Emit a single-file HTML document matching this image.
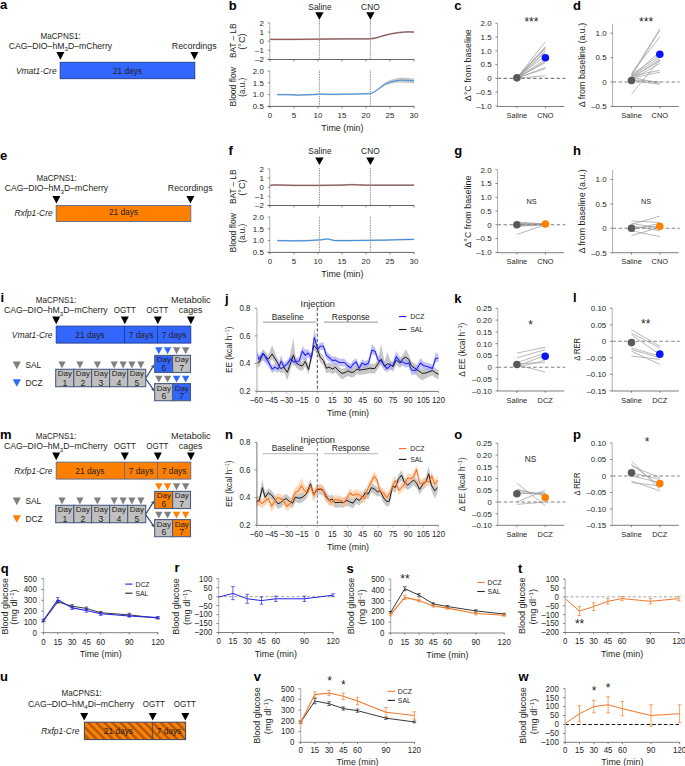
<!DOCTYPE html>
<html><head><meta charset="utf-8"><style>
html,body{margin:0;padding:0;background:#fff;}
svg{display:block;font-family:"Liberation Sans", sans-serif;}
</style></head><body>
<svg width="685" height="766" viewBox="0 0 685 766">
<rect width="685" height="766" fill="#fff"/>
<text x="0.00" y="8.90" font-size="13" text-anchor="start" font-weight="bold" fill="#000">a</text>
<text x="60.70" y="38.70" font-size="8.4" text-anchor="middle" fill="#231f20" textLength="40.3" lengthAdjust="spacingAndGlyphs">MaCPNS1:</text>
<text x="60.40" y="48.90" font-size="8.4" text-anchor="middle" fill="#231f20" textLength="103.5" lengthAdjust="spacingAndGlyphs">CAG–DIO–hM<tspan font-size="6.0" dy="2.3">3</tspan><tspan dy="-2.3">D–mCherry</tspan></text>
<polygon points="56.40,52.10 64.40,52.10 60.40,59.70" fill="#000"/>
<rect x="60.20" y="62.30" width="134.60" height="16.40" fill="#3366ff" stroke="#1c3d8f" stroke-width="0.9"/>
<text x="127.50" y="74.00" font-size="8.4" text-anchor="middle" fill="#231f20" textLength="29.1" lengthAdjust="spacingAndGlyphs">21 days</text>
<text x="56.60" y="74.40" font-size="8.4" text-anchor="end" font-style="italic" fill="#231f20" textLength="40.7" lengthAdjust="spacingAndGlyphs">Vmat1-Cre</text>
<text x="194.20" y="48.90" font-size="8.4" text-anchor="middle" fill="#231f20" textLength="44.8" lengthAdjust="spacingAndGlyphs">Recordings</text>
<polygon points="190.40,52.10 198.40,52.10 194.40,59.70" fill="#000"/>
<text x="0.00" y="159.60" font-size="13" text-anchor="start" font-weight="bold" fill="#000">e</text>
<text x="56.70" y="181.10" font-size="8.4" text-anchor="middle" fill="#231f20" textLength="40.3" lengthAdjust="spacingAndGlyphs">MaCPNS1:</text>
<text x="56.40" y="191.30" font-size="8.4" text-anchor="middle" fill="#231f20" textLength="103.5" lengthAdjust="spacingAndGlyphs">CAG–DIO–hM<tspan font-size="6.0" dy="2.3">3</tspan><tspan dy="-2.3">D–mCherry</tspan></text>
<polygon points="52.40,195.90 60.40,195.90 56.40,203.50" fill="#000"/>
<rect x="56.20" y="205.50" width="134.60" height="16.00" fill="#ff8000" stroke="#5b6b8c" stroke-width="0.9"/>
<text x="123.50" y="215.40" font-size="8.4" text-anchor="middle" fill="#231f20" textLength="29.1" lengthAdjust="spacingAndGlyphs">21 days</text>
<text x="52.60" y="216.40" font-size="8.4" text-anchor="end" font-style="italic" fill="#231f20" textLength="38.2" lengthAdjust="spacingAndGlyphs">Rxfp1-Cre</text>
<text x="190.20" y="191.30" font-size="8.4" text-anchor="middle" fill="#231f20" textLength="44.8" lengthAdjust="spacingAndGlyphs">Recordings</text>
<polygon points="186.40,195.90 194.40,195.90 190.40,203.50" fill="#000"/>
<text x="228.80" y="9.50" font-size="13" text-anchor="start" font-weight="bold" fill="#000">b</text>
<text x="320.00" y="9.60" font-size="8.4" text-anchor="middle" fill="#231f20">Saline</text>
<polygon points="315.20,12.30 323.60,12.30 319.40,19.80" fill="#000"/>
<line x1="319.40" y1="19.60" x2="319.40" y2="59.20" stroke="#333" stroke-width="0.7" stroke-dasharray="0.8 0.9" stroke-linecap="butt"/>
<line x1="319.40" y1="70.60" x2="319.40" y2="106.40" stroke="#333" stroke-width="0.7" stroke-dasharray="0.8 0.9" stroke-linecap="butt"/>
<text x="370.40" y="9.60" font-size="8.4" text-anchor="middle" fill="#231f20">CNO</text>
<polygon points="366.20,12.30 374.60,12.30 370.40,19.80" fill="#000"/>
<line x1="370.40" y1="19.60" x2="370.40" y2="59.20" stroke="#333" stroke-width="0.7" stroke-dasharray="0.8 0.9" stroke-linecap="butt"/>
<line x1="370.40" y1="70.60" x2="370.40" y2="106.40" stroke="#333" stroke-width="0.7" stroke-dasharray="0.8 0.9" stroke-linecap="butt"/>
<line x1="269.80" y1="23.00" x2="269.80" y2="59.60" stroke="#b0b0b0" stroke-width="1.0" stroke-linecap="butt"/>
<line x1="267.60" y1="59.50" x2="414.40" y2="59.50" stroke="#555" stroke-width="0.9" stroke-linecap="butt"/>
<line x1="267.80" y1="22.90" x2="269.80" y2="22.90" stroke="#555" stroke-width="0.7" stroke-linecap="butt"/>
<text x="263.80" y="25.60" font-size="7.9" text-anchor="end" fill="#231f20">2</text>
<line x1="267.80" y1="32.05" x2="269.80" y2="32.05" stroke="#555" stroke-width="0.7" stroke-linecap="butt"/>
<text x="263.80" y="34.75" font-size="7.9" text-anchor="end" fill="#231f20">1</text>
<line x1="267.80" y1="41.20" x2="269.80" y2="41.20" stroke="#555" stroke-width="0.7" stroke-linecap="butt"/>
<text x="263.80" y="43.90" font-size="7.9" text-anchor="end" fill="#231f20">0</text>
<line x1="267.80" y1="50.35" x2="269.80" y2="50.35" stroke="#555" stroke-width="0.7" stroke-linecap="butt"/>
<text x="263.80" y="53.05" font-size="7.9" text-anchor="end" fill="#231f20">–1</text>
<line x1="267.80" y1="59.50" x2="269.80" y2="59.50" stroke="#555" stroke-width="0.7" stroke-linecap="butt"/>
<text x="263.80" y="62.20" font-size="7.9" text-anchor="end" fill="#231f20">–2</text>
<line x1="270.00" y1="59.60" x2="270.00" y2="61.60" stroke="#555" stroke-width="0.7" stroke-linecap="butt"/>
<line x1="294.00" y1="59.60" x2="294.00" y2="61.60" stroke="#555" stroke-width="0.7" stroke-linecap="butt"/>
<line x1="318.00" y1="59.60" x2="318.00" y2="61.60" stroke="#555" stroke-width="0.7" stroke-linecap="butt"/>
<line x1="342.00" y1="59.60" x2="342.00" y2="61.60" stroke="#555" stroke-width="0.7" stroke-linecap="butt"/>
<line x1="366.00" y1="59.60" x2="366.00" y2="61.60" stroke="#555" stroke-width="0.7" stroke-linecap="butt"/>
<line x1="390.00" y1="59.60" x2="390.00" y2="61.60" stroke="#555" stroke-width="0.7" stroke-linecap="butt"/>
<line x1="414.00" y1="59.60" x2="414.00" y2="61.60" stroke="#555" stroke-width="0.7" stroke-linecap="butt"/>
<polygon points="270.00,38.47 294.00,38.47 318.00,38.20 342.00,38.01 366.00,38.01 370.80,37.83 375.60,37.10 380.40,35.73 385.20,34.35 390.00,33.16 394.80,32.25 399.60,31.61 404.40,31.15 409.20,30.97 414.00,31.15 414.00,32.95 409.20,32.77 404.40,32.95 399.60,33.41 394.80,34.05 390.00,34.96 385.20,36.15 380.40,37.52 375.60,38.90 370.80,39.63 366.00,39.81 342.00,39.81 318.00,40.00 294.00,40.27 270.00,40.27" fill="#bbbbbb" fill-opacity="1.0"/>
<polyline points="270.00,39.37 294.00,39.37 318.00,39.10 342.00,38.91 366.00,38.91 370.80,38.73 375.60,38.00 380.40,36.62 385.20,35.25 390.00,34.06 394.80,33.15 399.60,32.51 404.40,32.05 409.20,31.87 414.00,32.05" fill="none" stroke="#8a3b3b" stroke-width="0.9" stroke-linejoin="round"/>
<text x="236.00" y="40.80" font-size="8.4" text-anchor="middle" fill="#231f20" transform="rotate(-90 236.00 40.80)" textLength="34.6" lengthAdjust="spacingAndGlyphs">BAT – LB</text>
<text x="245.30" y="41.50" font-size="8.4" text-anchor="middle" fill="#231f20" transform="rotate(-90 245.30 41.50)" textLength="16.3" lengthAdjust="spacingAndGlyphs">(°C)</text>
<line x1="269.80" y1="70.90" x2="269.80" y2="106.40" stroke="#b0b0b0" stroke-width="1.0" stroke-linecap="butt"/>
<line x1="267.60" y1="106.40" x2="414.40" y2="106.40" stroke="#555" stroke-width="0.9" stroke-linecap="butt"/>
<line x1="267.80" y1="71.00" x2="269.80" y2="71.00" stroke="#555" stroke-width="0.7" stroke-linecap="butt"/>
<text x="263.80" y="73.70" font-size="7.9" text-anchor="end" fill="#231f20">2.0</text>
<line x1="267.80" y1="82.80" x2="269.80" y2="82.80" stroke="#555" stroke-width="0.7" stroke-linecap="butt"/>
<text x="263.80" y="85.50" font-size="7.9" text-anchor="end" fill="#231f20">1.5</text>
<line x1="267.80" y1="94.60" x2="269.80" y2="94.60" stroke="#555" stroke-width="0.7" stroke-linecap="butt"/>
<text x="263.80" y="97.30" font-size="7.9" text-anchor="end" fill="#231f20">1.0</text>
<line x1="267.80" y1="106.40" x2="269.80" y2="106.40" stroke="#555" stroke-width="0.7" stroke-linecap="butt"/>
<text x="263.80" y="109.10" font-size="7.9" text-anchor="end" fill="#231f20">0.5</text>
<line x1="270.00" y1="106.40" x2="270.00" y2="108.40" stroke="#555" stroke-width="0.7" stroke-linecap="butt"/>
<text x="270.00" y="118.00" font-size="7.9" text-anchor="middle" fill="#231f20">0</text>
<line x1="294.00" y1="106.40" x2="294.00" y2="108.40" stroke="#555" stroke-width="0.7" stroke-linecap="butt"/>
<text x="294.00" y="118.00" font-size="7.9" text-anchor="middle" fill="#231f20">5</text>
<line x1="318.00" y1="106.40" x2="318.00" y2="108.40" stroke="#555" stroke-width="0.7" stroke-linecap="butt"/>
<text x="318.00" y="118.00" font-size="7.9" text-anchor="middle" fill="#231f20">10</text>
<line x1="342.00" y1="106.40" x2="342.00" y2="108.40" stroke="#555" stroke-width="0.7" stroke-linecap="butt"/>
<text x="342.00" y="118.00" font-size="7.9" text-anchor="middle" fill="#231f20">15</text>
<line x1="366.00" y1="106.40" x2="366.00" y2="108.40" stroke="#555" stroke-width="0.7" stroke-linecap="butt"/>
<text x="366.00" y="118.00" font-size="7.9" text-anchor="middle" fill="#231f20">20</text>
<line x1="390.00" y1="106.40" x2="390.00" y2="108.40" stroke="#555" stroke-width="0.7" stroke-linecap="butt"/>
<text x="390.00" y="118.00" font-size="7.9" text-anchor="middle" fill="#231f20">25</text>
<line x1="414.00" y1="106.40" x2="414.00" y2="108.40" stroke="#555" stroke-width="0.7" stroke-linecap="butt"/>
<text x="414.00" y="118.00" font-size="7.9" text-anchor="middle" fill="#231f20">30</text>
<text x="342.40" y="131.00" font-size="8.4" text-anchor="middle" fill="#231f20" textLength="42.1" lengthAdjust="spacingAndGlyphs">Time (min)</text>
<polygon points="277.20,93.80 284.40,93.80 294.00,94.04 298.80,94.39 303.60,94.04 313.20,93.80 320.40,93.33 332.40,93.56 346.80,93.33 356.40,93.21 370.80,92.86 375.60,90.26 380.40,86.32 385.20,82.38 390.00,80.09 394.80,78.71 399.60,77.80 404.40,77.70 409.20,77.94 414.00,78.41 414.00,83.41 409.20,82.94 404.40,82.70 399.60,82.60 394.80,83.11 390.00,84.09 385.20,85.58 380.40,88.72 375.60,91.86 370.80,94.46 356.40,94.81 346.80,94.93 332.40,95.16 320.40,94.93 313.20,95.40 303.60,95.64 298.80,95.99 294.00,95.64 284.40,95.40 277.20,95.40" fill="#c8c8c8" fill-opacity="1.0"/>
<polyline points="277.20,94.60 284.40,94.60 294.00,94.84 298.80,95.19 303.60,94.84 313.20,94.60 320.40,94.13 332.40,94.36 346.80,94.13 356.40,94.01 370.80,93.66 375.60,91.06 380.40,87.52 385.20,83.98 390.00,82.09 394.80,80.91 399.60,80.20 404.40,80.20 409.20,80.44 414.00,80.91" fill="none" stroke="#3a8ee6" stroke-width="1.0" stroke-linejoin="round"/>
<text x="236.00" y="86.80" font-size="8.4" text-anchor="middle" fill="#231f20" transform="rotate(-90 236.00 86.80)" textLength="39.2" lengthAdjust="spacingAndGlyphs">Blood flow</text>
<text x="245.30" y="87.20" font-size="8.4" text-anchor="middle" fill="#231f20" transform="rotate(-90 245.30 87.20)" textLength="18.9" lengthAdjust="spacingAndGlyphs">(a.u.)</text>
<text x="228.50" y="154.70" font-size="13" text-anchor="start" font-weight="bold" fill="#000">f</text>
<text x="320.00" y="154.40" font-size="8.4" text-anchor="middle" fill="#231f20">Saline</text>
<polygon points="315.20,157.58 323.60,157.58 319.40,165.08" fill="#000"/>
<line x1="319.40" y1="168.30" x2="319.40" y2="205.20" stroke="#333" stroke-width="0.7" stroke-dasharray="0.8 0.9" stroke-linecap="butt"/>
<line x1="319.40" y1="216.60" x2="319.40" y2="252.40" stroke="#333" stroke-width="0.7" stroke-dasharray="0.8 0.9" stroke-linecap="butt"/>
<text x="370.40" y="154.40" font-size="8.4" text-anchor="middle" fill="#231f20">CNO</text>
<polygon points="366.20,157.58 374.60,157.58 370.40,165.08" fill="#000"/>
<line x1="370.40" y1="168.30" x2="370.40" y2="205.20" stroke="#333" stroke-width="0.7" stroke-dasharray="0.8 0.9" stroke-linecap="butt"/>
<line x1="370.40" y1="216.60" x2="370.40" y2="252.40" stroke="#333" stroke-width="0.7" stroke-dasharray="0.8 0.9" stroke-linecap="butt"/>
<line x1="269.80" y1="169.00" x2="269.80" y2="205.60" stroke="#b0b0b0" stroke-width="1.0" stroke-linecap="butt"/>
<line x1="267.60" y1="205.50" x2="414.40" y2="205.50" stroke="#555" stroke-width="0.9" stroke-linecap="butt"/>
<line x1="267.80" y1="168.90" x2="269.80" y2="168.90" stroke="#555" stroke-width="0.7" stroke-linecap="butt"/>
<text x="263.80" y="171.60" font-size="7.9" text-anchor="end" fill="#231f20">2</text>
<line x1="267.80" y1="178.05" x2="269.80" y2="178.05" stroke="#555" stroke-width="0.7" stroke-linecap="butt"/>
<text x="263.80" y="180.75" font-size="7.9" text-anchor="end" fill="#231f20">1</text>
<line x1="267.80" y1="187.20" x2="269.80" y2="187.20" stroke="#555" stroke-width="0.7" stroke-linecap="butt"/>
<text x="263.80" y="189.90" font-size="7.9" text-anchor="end" fill="#231f20">0</text>
<line x1="267.80" y1="196.35" x2="269.80" y2="196.35" stroke="#555" stroke-width="0.7" stroke-linecap="butt"/>
<text x="263.80" y="199.05" font-size="7.9" text-anchor="end" fill="#231f20">–1</text>
<line x1="267.80" y1="205.50" x2="269.80" y2="205.50" stroke="#555" stroke-width="0.7" stroke-linecap="butt"/>
<text x="263.80" y="208.20" font-size="7.9" text-anchor="end" fill="#231f20">–2</text>
<line x1="270.00" y1="205.60" x2="270.00" y2="207.60" stroke="#555" stroke-width="0.7" stroke-linecap="butt"/>
<line x1="294.00" y1="205.60" x2="294.00" y2="207.60" stroke="#555" stroke-width="0.7" stroke-linecap="butt"/>
<line x1="318.00" y1="205.60" x2="318.00" y2="207.60" stroke="#555" stroke-width="0.7" stroke-linecap="butt"/>
<line x1="342.00" y1="205.60" x2="342.00" y2="207.60" stroke="#555" stroke-width="0.7" stroke-linecap="butt"/>
<line x1="366.00" y1="205.60" x2="366.00" y2="207.60" stroke="#555" stroke-width="0.7" stroke-linecap="butt"/>
<line x1="390.00" y1="205.60" x2="390.00" y2="207.60" stroke="#555" stroke-width="0.7" stroke-linecap="butt"/>
<line x1="414.00" y1="205.60" x2="414.00" y2="207.60" stroke="#555" stroke-width="0.7" stroke-linecap="butt"/>
<polygon points="270.00,184.47 274.80,184.01 294.00,184.47 318.00,184.47 342.00,184.20 351.60,183.74 366.00,184.29 390.00,184.29 414.00,184.29 414.00,186.09 390.00,186.09 366.00,186.09 351.60,185.54 342.00,186.00 318.00,186.27 294.00,186.27 274.80,185.81 270.00,186.27" fill="#bbbbbb" fill-opacity="1.0"/>
<polyline points="270.00,185.37 274.80,184.91 294.00,185.37 318.00,185.37 342.00,185.10 351.60,184.64 366.00,185.19 390.00,185.19 414.00,185.19" fill="none" stroke="#8a3b3b" stroke-width="0.9" stroke-linejoin="round"/>
<text x="236.00" y="186.80" font-size="8.4" text-anchor="middle" fill="#231f20" transform="rotate(-90 236.00 186.80)" textLength="34.6" lengthAdjust="spacingAndGlyphs">BAT – LB</text>
<text x="245.30" y="187.50" font-size="8.4" text-anchor="middle" fill="#231f20" transform="rotate(-90 245.30 187.50)" textLength="16.3" lengthAdjust="spacingAndGlyphs">(°C)</text>
<line x1="269.80" y1="216.90" x2="269.80" y2="252.40" stroke="#b0b0b0" stroke-width="1.0" stroke-linecap="butt"/>
<line x1="267.60" y1="252.40" x2="414.40" y2="252.40" stroke="#555" stroke-width="0.9" stroke-linecap="butt"/>
<line x1="267.80" y1="217.00" x2="269.80" y2="217.00" stroke="#555" stroke-width="0.7" stroke-linecap="butt"/>
<text x="263.80" y="219.70" font-size="7.9" text-anchor="end" fill="#231f20">2.0</text>
<line x1="267.80" y1="228.80" x2="269.80" y2="228.80" stroke="#555" stroke-width="0.7" stroke-linecap="butt"/>
<text x="263.80" y="231.50" font-size="7.9" text-anchor="end" fill="#231f20">1.5</text>
<line x1="267.80" y1="240.60" x2="269.80" y2="240.60" stroke="#555" stroke-width="0.7" stroke-linecap="butt"/>
<text x="263.80" y="243.30" font-size="7.9" text-anchor="end" fill="#231f20">1.0</text>
<line x1="267.80" y1="252.40" x2="269.80" y2="252.40" stroke="#555" stroke-width="0.7" stroke-linecap="butt"/>
<text x="263.80" y="255.10" font-size="7.9" text-anchor="end" fill="#231f20">0.5</text>
<line x1="270.00" y1="252.40" x2="270.00" y2="254.40" stroke="#555" stroke-width="0.7" stroke-linecap="butt"/>
<text x="270.00" y="264.00" font-size="7.9" text-anchor="middle" fill="#231f20">0</text>
<line x1="294.00" y1="252.40" x2="294.00" y2="254.40" stroke="#555" stroke-width="0.7" stroke-linecap="butt"/>
<text x="294.00" y="264.00" font-size="7.9" text-anchor="middle" fill="#231f20">5</text>
<line x1="318.00" y1="252.40" x2="318.00" y2="254.40" stroke="#555" stroke-width="0.7" stroke-linecap="butt"/>
<text x="318.00" y="264.00" font-size="7.9" text-anchor="middle" fill="#231f20">10</text>
<line x1="342.00" y1="252.40" x2="342.00" y2="254.40" stroke="#555" stroke-width="0.7" stroke-linecap="butt"/>
<text x="342.00" y="264.00" font-size="7.9" text-anchor="middle" fill="#231f20">15</text>
<line x1="366.00" y1="252.40" x2="366.00" y2="254.40" stroke="#555" stroke-width="0.7" stroke-linecap="butt"/>
<text x="366.00" y="264.00" font-size="7.9" text-anchor="middle" fill="#231f20">20</text>
<line x1="390.00" y1="252.40" x2="390.00" y2="254.40" stroke="#555" stroke-width="0.7" stroke-linecap="butt"/>
<text x="390.00" y="264.00" font-size="7.9" text-anchor="middle" fill="#231f20">25</text>
<line x1="414.00" y1="252.40" x2="414.00" y2="254.40" stroke="#555" stroke-width="0.7" stroke-linecap="butt"/>
<text x="414.00" y="264.00" font-size="7.9" text-anchor="middle" fill="#231f20">30</text>
<text x="342.40" y="277.00" font-size="8.4" text-anchor="middle" fill="#231f20" textLength="42.1" lengthAdjust="spacingAndGlyphs">Time (min)</text>
<polygon points="277.20,239.80 294.00,240.04 308.40,239.80 320.40,239.09 327.60,238.15 334.80,239.80 346.80,239.80 366.00,239.56 385.20,239.33 399.60,238.86 414.00,238.62 414.00,240.22 399.60,240.46 385.20,240.93 366.00,241.16 346.80,241.40 334.80,241.40 327.60,239.75 320.40,240.69 308.40,241.40 294.00,241.64 277.20,241.40" fill="#c8c8c8" fill-opacity="1.0"/>
<polyline points="277.20,240.60 294.00,240.84 308.40,240.60 320.40,239.89 327.60,238.95 334.80,240.60 346.80,240.60 366.00,240.36 385.20,240.13 399.60,239.66 414.00,239.42" fill="none" stroke="#3a8ee6" stroke-width="1.0" stroke-linejoin="round"/>
<text x="236.00" y="232.80" font-size="8.4" text-anchor="middle" fill="#231f20" transform="rotate(-90 236.00 232.80)" textLength="39.2" lengthAdjust="spacingAndGlyphs">Blood flow</text>
<text x="245.30" y="233.20" font-size="8.4" text-anchor="middle" fill="#231f20" transform="rotate(-90 245.30 233.20)" textLength="18.9" lengthAdjust="spacingAndGlyphs">(a.u.)</text>
<text x="454.30" y="9.50" font-size="13" text-anchor="start" font-weight="bold" fill="#000">c</text>
<line x1="516.90" y1="77.85" x2="545.40" y2="41.76" stroke="#a0a0a0" stroke-width="0.75" stroke-linecap="butt"/>
<line x1="516.90" y1="77.57" x2="545.40" y2="46.72" stroke="#a0a0a0" stroke-width="0.75" stroke-linecap="butt"/>
<line x1="516.90" y1="78.40" x2="545.40" y2="47.54" stroke="#a0a0a0" stroke-width="0.75" stroke-linecap="butt"/>
<line x1="516.90" y1="77.02" x2="545.40" y2="48.65" stroke="#a0a0a0" stroke-width="0.75" stroke-linecap="butt"/>
<line x1="516.90" y1="77.85" x2="545.40" y2="50.85" stroke="#a0a0a0" stroke-width="0.75" stroke-linecap="butt"/>
<line x1="516.90" y1="78.40" x2="545.40" y2="52.23" stroke="#a0a0a0" stroke-width="0.75" stroke-linecap="butt"/>
<line x1="516.90" y1="77.30" x2="545.40" y2="55.81" stroke="#a0a0a0" stroke-width="0.75" stroke-linecap="butt"/>
<line x1="516.90" y1="77.85" x2="545.40" y2="59.67" stroke="#a0a0a0" stroke-width="0.75" stroke-linecap="butt"/>
<line x1="516.90" y1="78.40" x2="545.40" y2="61.32" stroke="#a0a0a0" stroke-width="0.75" stroke-linecap="butt"/>
<line x1="516.90" y1="77.57" x2="545.40" y2="62.70" stroke="#a0a0a0" stroke-width="0.75" stroke-linecap="butt"/>
<line x1="516.90" y1="78.40" x2="545.40" y2="67.38" stroke="#a0a0a0" stroke-width="0.75" stroke-linecap="butt"/>
<line x1="516.90" y1="77.85" x2="545.40" y2="68.76" stroke="#a0a0a0" stroke-width="0.75" stroke-linecap="butt"/>
<line x1="516.90" y1="78.40" x2="545.40" y2="75.65" stroke="#a0a0a0" stroke-width="0.75" stroke-linecap="butt"/>
<line x1="497.60" y1="78.40" x2="565.30" y2="78.40" stroke="#808080" stroke-width="1.1" stroke-dasharray="3.5 2.4" stroke-linecap="butt"/>
<line x1="497.60" y1="23.70" x2="497.60" y2="106.50" stroke="#b0b0b0" stroke-width="1.0" stroke-linecap="butt"/>
<line x1="497.10" y1="106.50" x2="564.30" y2="106.50" stroke="#707070" stroke-width="0.9" stroke-linecap="butt"/>
<line x1="495.40" y1="23.30" x2="497.60" y2="23.30" stroke="#555" stroke-width="0.7" stroke-linecap="butt"/>
<text x="491.60" y="26.10" font-size="7.9" text-anchor="end" fill="#231f20">2.0</text>
<line x1="495.40" y1="37.08" x2="497.60" y2="37.08" stroke="#555" stroke-width="0.7" stroke-linecap="butt"/>
<text x="491.60" y="39.88" font-size="7.9" text-anchor="end" fill="#231f20">1.5</text>
<line x1="495.40" y1="50.85" x2="497.60" y2="50.85" stroke="#555" stroke-width="0.7" stroke-linecap="butt"/>
<text x="491.60" y="53.65" font-size="7.9" text-anchor="end" fill="#231f20">1.0</text>
<line x1="495.40" y1="64.62" x2="497.60" y2="64.62" stroke="#555" stroke-width="0.7" stroke-linecap="butt"/>
<text x="491.60" y="67.42" font-size="7.9" text-anchor="end" fill="#231f20">0.5</text>
<line x1="495.40" y1="78.40" x2="497.60" y2="78.40" stroke="#555" stroke-width="0.7" stroke-linecap="butt"/>
<text x="491.60" y="81.20" font-size="7.9" text-anchor="end" fill="#231f20">0</text>
<line x1="495.40" y1="92.18" x2="497.60" y2="92.18" stroke="#555" stroke-width="0.7" stroke-linecap="butt"/>
<text x="491.60" y="94.98" font-size="7.9" text-anchor="end" fill="#231f20">–0.5</text>
<line x1="495.40" y1="105.95" x2="497.60" y2="105.95" stroke="#555" stroke-width="0.7" stroke-linecap="butt"/>
<text x="491.60" y="108.75" font-size="7.9" text-anchor="end" fill="#231f20">–1.0</text>
<line x1="516.90" y1="106.50" x2="516.90" y2="108.30" stroke="#555" stroke-width="0.7" stroke-linecap="butt"/>
<line x1="545.40" y1="106.50" x2="545.40" y2="108.30" stroke="#555" stroke-width="0.7" stroke-linecap="butt"/>
<text x="516.90" y="118.10" font-size="7.84" text-anchor="middle" fill="#231f20" textLength="20.57" lengthAdjust="spacingAndGlyphs">Saline</text>
<text x="545.40" y="118.10" font-size="7.84" text-anchor="middle" fill="#231f20" textLength="16.44" lengthAdjust="spacingAndGlyphs">CNO</text>
<circle cx="516.90" cy="77.85" r="3.8" fill="#595959"/>
<circle cx="545.40" cy="57.74" r="3.8" fill="#0a14f5"/>
<text x="531.40" y="26.00" font-size="12" text-anchor="middle" fill="#231f20">***</text>
<text x="470.90" y="65.20" font-size="8.4" text-anchor="middle" fill="#231f20" transform="rotate(-90 470.90 65.20)" textLength="72.1" lengthAdjust="spacingAndGlyphs">Δ°C from baseline</text>
<text x="573.00" y="9.50" font-size="13" text-anchor="start" font-weight="bold" fill="#000">d</text>
<line x1="631.50" y1="74.68" x2="659.80" y2="28.81" stroke="#a0a0a0" stroke-width="0.75" stroke-linecap="butt"/>
<line x1="631.50" y1="76.14" x2="659.80" y2="30.27" stroke="#a0a0a0" stroke-width="0.75" stroke-linecap="butt"/>
<line x1="631.50" y1="73.22" x2="659.80" y2="37.10" stroke="#a0a0a0" stroke-width="0.75" stroke-linecap="butt"/>
<line x1="631.50" y1="77.12" x2="659.80" y2="51.74" stroke="#a0a0a0" stroke-width="0.75" stroke-linecap="butt"/>
<line x1="631.50" y1="74.68" x2="659.80" y2="55.16" stroke="#a0a0a0" stroke-width="0.75" stroke-linecap="butt"/>
<line x1="631.50" y1="76.14" x2="659.80" y2="57.60" stroke="#a0a0a0" stroke-width="0.75" stroke-linecap="butt"/>
<line x1="631.50" y1="78.10" x2="659.80" y2="59.55" stroke="#a0a0a0" stroke-width="0.75" stroke-linecap="butt"/>
<line x1="631.50" y1="77.12" x2="659.80" y2="61.02" stroke="#a0a0a0" stroke-width="0.75" stroke-linecap="butt"/>
<line x1="631.50" y1="79.56" x2="659.80" y2="63.46" stroke="#a0a0a0" stroke-width="0.75" stroke-linecap="butt"/>
<line x1="631.50" y1="76.14" x2="659.80" y2="70.29" stroke="#a0a0a0" stroke-width="0.75" stroke-linecap="butt"/>
<line x1="631.50" y1="78.10" x2="659.80" y2="72.24" stroke="#a0a0a0" stroke-width="0.75" stroke-linecap="butt"/>
<line x1="631.50" y1="79.56" x2="659.80" y2="82.00" stroke="#a0a0a0" stroke-width="0.75" stroke-linecap="butt"/>
<line x1="631.50" y1="77.12" x2="659.80" y2="83.46" stroke="#a0a0a0" stroke-width="0.75" stroke-linecap="butt"/>
<line x1="631.50" y1="80.05" x2="659.80" y2="84.44" stroke="#a0a0a0" stroke-width="0.75" stroke-linecap="butt"/>
<line x1="631.50" y1="94.20" x2="659.80" y2="60.04" stroke="#a0a0a0" stroke-width="0.75" stroke-linecap="butt"/>
<line x1="612.60" y1="82.00" x2="679.80" y2="82.00" stroke="#808080" stroke-width="1.1" stroke-dasharray="3.5 2.4" stroke-linecap="butt"/>
<line x1="612.60" y1="23.70" x2="612.60" y2="106.50" stroke="#b0b0b0" stroke-width="1.0" stroke-linecap="butt"/>
<line x1="612.10" y1="106.50" x2="678.80" y2="106.50" stroke="#707070" stroke-width="0.9" stroke-linecap="butt"/>
<line x1="610.40" y1="33.20" x2="612.60" y2="33.20" stroke="#555" stroke-width="0.7" stroke-linecap="butt"/>
<text x="606.60" y="36.00" font-size="7.9" text-anchor="end" fill="#231f20">1.0</text>
<line x1="610.40" y1="57.60" x2="612.60" y2="57.60" stroke="#555" stroke-width="0.7" stroke-linecap="butt"/>
<text x="606.60" y="60.40" font-size="7.9" text-anchor="end" fill="#231f20">0.5</text>
<line x1="610.40" y1="82.00" x2="612.60" y2="82.00" stroke="#555" stroke-width="0.7" stroke-linecap="butt"/>
<text x="606.60" y="84.80" font-size="7.9" text-anchor="end" fill="#231f20">0</text>
<line x1="610.40" y1="106.40" x2="612.60" y2="106.40" stroke="#555" stroke-width="0.7" stroke-linecap="butt"/>
<text x="606.60" y="109.20" font-size="7.9" text-anchor="end" fill="#231f20">–0.5</text>
<line x1="631.50" y1="106.50" x2="631.50" y2="108.30" stroke="#555" stroke-width="0.7" stroke-linecap="butt"/>
<line x1="659.80" y1="106.50" x2="659.80" y2="108.30" stroke="#555" stroke-width="0.7" stroke-linecap="butt"/>
<text x="631.50" y="118.10" font-size="7.84" text-anchor="middle" fill="#231f20" textLength="20.57" lengthAdjust="spacingAndGlyphs">Saline</text>
<text x="659.80" y="118.10" font-size="7.84" text-anchor="middle" fill="#231f20" textLength="16.44" lengthAdjust="spacingAndGlyphs">CNO</text>
<circle cx="631.50" cy="80.54" r="3.8" fill="#595959"/>
<circle cx="659.80" cy="54.18" r="3.8" fill="#0a14f5"/>
<text x="646.10" y="26.00" font-size="12" text-anchor="middle" fill="#231f20">***</text>
<text x="584.90" y="65.00" font-size="8.4" text-anchor="middle" fill="#231f20" transform="rotate(-90 584.90 65.00)" textLength="84.4" lengthAdjust="spacingAndGlyphs">Δ from baseline (a.u.)</text>
<text x="454.30" y="154.50" font-size="13" text-anchor="start" font-weight="bold" fill="#000">g</text>
<line x1="516.90" y1="222.05" x2="545.40" y2="223.97" stroke="#a0a0a0" stroke-width="0.75" stroke-linecap="butt"/>
<line x1="516.90" y1="222.87" x2="545.40" y2="224.25" stroke="#a0a0a0" stroke-width="0.75" stroke-linecap="butt"/>
<line x1="516.90" y1="223.70" x2="545.40" y2="224.80" stroke="#a0a0a0" stroke-width="0.75" stroke-linecap="butt"/>
<line x1="516.90" y1="224.80" x2="545.40" y2="224.52" stroke="#a0a0a0" stroke-width="0.75" stroke-linecap="butt"/>
<line x1="516.90" y1="225.90" x2="545.40" y2="224.80" stroke="#a0a0a0" stroke-width="0.75" stroke-linecap="butt"/>
<line x1="516.90" y1="226.45" x2="545.40" y2="224.25" stroke="#a0a0a0" stroke-width="0.75" stroke-linecap="butt"/>
<line x1="516.90" y1="224.25" x2="545.40" y2="223.42" stroke="#a0a0a0" stroke-width="0.75" stroke-linecap="butt"/>
<line x1="516.90" y1="234.44" x2="545.40" y2="224.80" stroke="#a0a0a0" stroke-width="0.75" stroke-linecap="butt"/>
<line x1="497.60" y1="224.80" x2="565.30" y2="224.80" stroke="#808080" stroke-width="1.1" stroke-dasharray="3.5 2.4" stroke-linecap="butt"/>
<line x1="497.60" y1="170.00" x2="497.60" y2="252.70" stroke="#b0b0b0" stroke-width="1.0" stroke-linecap="butt"/>
<line x1="497.10" y1="252.70" x2="564.30" y2="252.70" stroke="#707070" stroke-width="0.9" stroke-linecap="butt"/>
<line x1="495.40" y1="169.70" x2="497.60" y2="169.70" stroke="#555" stroke-width="0.7" stroke-linecap="butt"/>
<text x="491.60" y="172.50" font-size="7.9" text-anchor="end" fill="#231f20">2.0</text>
<line x1="495.40" y1="183.48" x2="497.60" y2="183.48" stroke="#555" stroke-width="0.7" stroke-linecap="butt"/>
<text x="491.60" y="186.28" font-size="7.9" text-anchor="end" fill="#231f20">1.5</text>
<line x1="495.40" y1="197.25" x2="497.60" y2="197.25" stroke="#555" stroke-width="0.7" stroke-linecap="butt"/>
<text x="491.60" y="200.05" font-size="7.9" text-anchor="end" fill="#231f20">1.0</text>
<line x1="495.40" y1="211.03" x2="497.60" y2="211.03" stroke="#555" stroke-width="0.7" stroke-linecap="butt"/>
<text x="491.60" y="213.83" font-size="7.9" text-anchor="end" fill="#231f20">0.5</text>
<line x1="495.40" y1="224.80" x2="497.60" y2="224.80" stroke="#555" stroke-width="0.7" stroke-linecap="butt"/>
<text x="491.60" y="227.60" font-size="7.9" text-anchor="end" fill="#231f20">0</text>
<line x1="495.40" y1="238.58" x2="497.60" y2="238.58" stroke="#555" stroke-width="0.7" stroke-linecap="butt"/>
<text x="491.60" y="241.38" font-size="7.9" text-anchor="end" fill="#231f20">–0.5</text>
<line x1="495.40" y1="252.35" x2="497.60" y2="252.35" stroke="#555" stroke-width="0.7" stroke-linecap="butt"/>
<text x="491.60" y="255.15" font-size="7.9" text-anchor="end" fill="#231f20">–1.0</text>
<line x1="516.90" y1="252.70" x2="516.90" y2="254.50" stroke="#555" stroke-width="0.7" stroke-linecap="butt"/>
<line x1="545.40" y1="252.70" x2="545.40" y2="254.50" stroke="#555" stroke-width="0.7" stroke-linecap="butt"/>
<text x="516.90" y="264.30" font-size="7.84" text-anchor="middle" fill="#231f20" textLength="20.57" lengthAdjust="spacingAndGlyphs">Saline</text>
<text x="545.40" y="264.30" font-size="7.84" text-anchor="middle" fill="#231f20" textLength="16.44" lengthAdjust="spacingAndGlyphs">CNO</text>
<circle cx="516.90" cy="224.80" r="3.8" fill="#595959"/>
<circle cx="545.40" cy="223.97" r="3.8" fill="#ff8000"/>
<text x="531.60" y="204.20" font-size="7.3" text-anchor="middle" fill="#231f20">NS</text>
<text x="470.90" y="211.60" font-size="8.4" text-anchor="middle" fill="#231f20" transform="rotate(-90 470.90 211.60)" textLength="72.1" lengthAdjust="spacingAndGlyphs">Δ°C from baseline</text>
<text x="573.00" y="155.00" font-size="13" text-anchor="start" font-weight="bold" fill="#000">h</text>
<line x1="631.50" y1="220.98" x2="659.80" y2="222.44" stroke="#a0a0a0" stroke-width="0.75" stroke-linecap="butt"/>
<line x1="631.50" y1="224.40" x2="659.80" y2="216.10" stroke="#a0a0a0" stroke-width="0.75" stroke-linecap="butt"/>
<line x1="631.50" y1="225.86" x2="659.80" y2="230.74" stroke="#a0a0a0" stroke-width="0.75" stroke-linecap="butt"/>
<line x1="631.50" y1="228.30" x2="659.80" y2="225.86" stroke="#a0a0a0" stroke-width="0.75" stroke-linecap="butt"/>
<line x1="631.50" y1="230.74" x2="659.80" y2="236.60" stroke="#a0a0a0" stroke-width="0.75" stroke-linecap="butt"/>
<line x1="631.50" y1="235.62" x2="659.80" y2="227.32" stroke="#a0a0a0" stroke-width="0.75" stroke-linecap="butt"/>
<line x1="631.50" y1="223.42" x2="659.80" y2="228.30" stroke="#a0a0a0" stroke-width="0.75" stroke-linecap="butt"/>
<line x1="631.50" y1="229.28" x2="659.80" y2="223.42" stroke="#a0a0a0" stroke-width="0.75" stroke-linecap="butt"/>
<line x1="612.60" y1="228.30" x2="679.80" y2="228.30" stroke="#808080" stroke-width="1.1" stroke-dasharray="3.5 2.4" stroke-linecap="butt"/>
<line x1="612.60" y1="170.00" x2="612.60" y2="252.70" stroke="#b0b0b0" stroke-width="1.0" stroke-linecap="butt"/>
<line x1="612.10" y1="252.70" x2="678.80" y2="252.70" stroke="#707070" stroke-width="0.9" stroke-linecap="butt"/>
<line x1="610.40" y1="179.50" x2="612.60" y2="179.50" stroke="#555" stroke-width="0.7" stroke-linecap="butt"/>
<text x="606.60" y="182.30" font-size="7.9" text-anchor="end" fill="#231f20">1.0</text>
<line x1="610.40" y1="203.90" x2="612.60" y2="203.90" stroke="#555" stroke-width="0.7" stroke-linecap="butt"/>
<text x="606.60" y="206.70" font-size="7.9" text-anchor="end" fill="#231f20">0.5</text>
<line x1="610.40" y1="228.30" x2="612.60" y2="228.30" stroke="#555" stroke-width="0.7" stroke-linecap="butt"/>
<text x="606.60" y="231.10" font-size="7.9" text-anchor="end" fill="#231f20">0</text>
<line x1="610.40" y1="252.70" x2="612.60" y2="252.70" stroke="#555" stroke-width="0.7" stroke-linecap="butt"/>
<text x="606.60" y="255.50" font-size="7.9" text-anchor="end" fill="#231f20">–0.5</text>
<line x1="631.50" y1="252.70" x2="631.50" y2="254.50" stroke="#555" stroke-width="0.7" stroke-linecap="butt"/>
<line x1="659.80" y1="252.70" x2="659.80" y2="254.50" stroke="#555" stroke-width="0.7" stroke-linecap="butt"/>
<text x="631.50" y="264.30" font-size="7.84" text-anchor="middle" fill="#231f20" textLength="20.57" lengthAdjust="spacingAndGlyphs">Saline</text>
<text x="659.80" y="264.30" font-size="7.84" text-anchor="middle" fill="#231f20" textLength="16.44" lengthAdjust="spacingAndGlyphs">CNO</text>
<circle cx="631.50" cy="228.30" r="3.8" fill="#595959"/>
<circle cx="659.80" cy="226.35" r="3.8" fill="#ff8000"/>
<text x="646.10" y="204.20" font-size="7.3" text-anchor="middle" fill="#231f20">NS</text>
<text x="584.90" y="211.40" font-size="8.4" text-anchor="middle" fill="#231f20" transform="rotate(-90 584.90 211.40)" textLength="84.4" lengthAdjust="spacingAndGlyphs">Δ from baseline (a.u.)</text>
<text x="454.30" y="302.70" font-size="13" text-anchor="start" font-weight="bold" fill="#000">k</text>
<line x1="516.90" y1="353.14" x2="545.20" y2="347.24" stroke="#a0a0a0" stroke-width="0.75" stroke-linecap="butt"/>
<line x1="516.90" y1="357.86" x2="545.20" y2="349.60" stroke="#a0a0a0" stroke-width="0.75" stroke-linecap="butt"/>
<line x1="516.90" y1="367.30" x2="545.20" y2="360.22" stroke="#a0a0a0" stroke-width="0.75" stroke-linecap="butt"/>
<line x1="516.90" y1="363.76" x2="545.20" y2="362.58" stroke="#a0a0a0" stroke-width="0.75" stroke-linecap="butt"/>
<line x1="516.90" y1="364.94" x2="545.20" y2="372.02" stroke="#a0a0a0" stroke-width="0.75" stroke-linecap="butt"/>
<line x1="516.90" y1="366.12" x2="545.20" y2="355.50" stroke="#a0a0a0" stroke-width="0.75" stroke-linecap="butt"/>
<line x1="516.90" y1="362.58" x2="545.20" y2="353.14" stroke="#a0a0a0" stroke-width="0.75" stroke-linecap="butt"/>
<line x1="497.80" y1="367.30" x2="565.30" y2="367.30" stroke="#808080" stroke-width="1.1" stroke-dasharray="3.5 2.4" stroke-linecap="butt"/>
<line x1="497.80" y1="308.50" x2="497.80" y2="391.00" stroke="#b0b0b0" stroke-width="1.0" stroke-linecap="butt"/>
<line x1="497.30" y1="391.00" x2="564.30" y2="391.00" stroke="#707070" stroke-width="0.9" stroke-linecap="butt"/>
<line x1="495.60" y1="308.30" x2="497.80" y2="308.30" stroke="#555" stroke-width="0.7" stroke-linecap="butt"/>
<text x="491.80" y="311.10" font-size="7.9" text-anchor="end" fill="#231f20">0.25</text>
<line x1="495.60" y1="320.10" x2="497.80" y2="320.10" stroke="#555" stroke-width="0.7" stroke-linecap="butt"/>
<text x="491.80" y="322.90" font-size="7.9" text-anchor="end" fill="#231f20">0.20</text>
<line x1="495.60" y1="331.90" x2="497.80" y2="331.90" stroke="#555" stroke-width="0.7" stroke-linecap="butt"/>
<text x="491.80" y="334.70" font-size="7.9" text-anchor="end" fill="#231f20">0.15</text>
<line x1="495.60" y1="343.70" x2="497.80" y2="343.70" stroke="#555" stroke-width="0.7" stroke-linecap="butt"/>
<text x="491.80" y="346.50" font-size="7.9" text-anchor="end" fill="#231f20">0.10</text>
<line x1="495.60" y1="355.50" x2="497.80" y2="355.50" stroke="#555" stroke-width="0.7" stroke-linecap="butt"/>
<text x="491.80" y="358.30" font-size="7.9" text-anchor="end" fill="#231f20">0.05</text>
<line x1="495.60" y1="367.30" x2="497.80" y2="367.30" stroke="#555" stroke-width="0.7" stroke-linecap="butt"/>
<text x="491.80" y="370.10" font-size="7.9" text-anchor="end" fill="#231f20">0</text>
<line x1="495.60" y1="379.10" x2="497.80" y2="379.10" stroke="#555" stroke-width="0.7" stroke-linecap="butt"/>
<text x="491.80" y="381.90" font-size="7.9" text-anchor="end" fill="#231f20">–0.05</text>
<line x1="495.60" y1="390.90" x2="497.80" y2="390.90" stroke="#555" stroke-width="0.7" stroke-linecap="butt"/>
<text x="491.80" y="393.70" font-size="7.9" text-anchor="end" fill="#231f20">–0.10</text>
<line x1="516.90" y1="391.00" x2="516.90" y2="392.80" stroke="#555" stroke-width="0.7" stroke-linecap="butt"/>
<line x1="545.20" y1="391.00" x2="545.20" y2="392.80" stroke="#555" stroke-width="0.7" stroke-linecap="butt"/>
<text x="516.90" y="402.60" font-size="7.84" text-anchor="middle" fill="#231f20" textLength="20.57" lengthAdjust="spacingAndGlyphs">Saline</text>
<text x="545.20" y="402.60" font-size="7.84" text-anchor="middle" fill="#231f20" textLength="15.21" lengthAdjust="spacingAndGlyphs">DCZ</text>
<circle cx="516.90" cy="364.47" r="3.8" fill="#595959"/>
<circle cx="545.20" cy="356.21" r="3.8" fill="#0a14f5"/>
<text x="530.60" y="329.10" font-size="12" text-anchor="middle" fill="#231f20">*</text>
<text x="465.20" y="349.80" font-size="8.4" text-anchor="middle" fill="#231f20" transform="rotate(-90 465.20 349.80)" textLength="54.1" lengthAdjust="spacingAndGlyphs">Δ EE (kcal h<tspan font-size="5.6" dy="-3">−1</tspan><tspan dy="3">)</tspan></text>
<text x="573.00" y="302.40" font-size="13" text-anchor="start" font-weight="bold" fill="#000">l</text>
<line x1="631.50" y1="329.75" x2="659.80" y2="346.25" stroke="#a0a0a0" stroke-width="0.75" stroke-linecap="butt"/>
<line x1="631.50" y1="333.05" x2="659.80" y2="347.90" stroke="#a0a0a0" stroke-width="0.75" stroke-linecap="butt"/>
<line x1="631.50" y1="334.70" x2="659.80" y2="354.50" stroke="#a0a0a0" stroke-width="0.75" stroke-linecap="butt"/>
<line x1="631.50" y1="349.55" x2="659.80" y2="357.80" stroke="#a0a0a0" stroke-width="0.75" stroke-linecap="butt"/>
<line x1="631.50" y1="351.20" x2="659.80" y2="364.40" stroke="#a0a0a0" stroke-width="0.75" stroke-linecap="butt"/>
<line x1="631.50" y1="356.15" x2="659.80" y2="359.45" stroke="#a0a0a0" stroke-width="0.75" stroke-linecap="butt"/>
<line x1="631.50" y1="347.90" x2="659.80" y2="356.15" stroke="#a0a0a0" stroke-width="0.75" stroke-linecap="butt"/>
<line x1="612.20" y1="341.30" x2="679.80" y2="341.30" stroke="#808080" stroke-width="1.1" stroke-dasharray="3.5 2.4" stroke-linecap="butt"/>
<line x1="612.20" y1="308.50" x2="612.20" y2="391.00" stroke="#b0b0b0" stroke-width="1.0" stroke-linecap="butt"/>
<line x1="611.70" y1="391.00" x2="678.80" y2="391.00" stroke="#707070" stroke-width="0.9" stroke-linecap="butt"/>
<line x1="610.00" y1="308.30" x2="612.20" y2="308.30" stroke="#555" stroke-width="0.7" stroke-linecap="butt"/>
<text x="606.20" y="311.10" font-size="7.9" text-anchor="end" fill="#231f20">0.10</text>
<line x1="610.00" y1="324.80" x2="612.20" y2="324.80" stroke="#555" stroke-width="0.7" stroke-linecap="butt"/>
<text x="606.20" y="327.60" font-size="7.9" text-anchor="end" fill="#231f20">0.05</text>
<line x1="610.00" y1="341.30" x2="612.20" y2="341.30" stroke="#555" stroke-width="0.7" stroke-linecap="butt"/>
<text x="606.20" y="344.10" font-size="7.9" text-anchor="end" fill="#231f20">0</text>
<line x1="610.00" y1="357.80" x2="612.20" y2="357.80" stroke="#555" stroke-width="0.7" stroke-linecap="butt"/>
<text x="606.20" y="360.60" font-size="7.9" text-anchor="end" fill="#231f20">–0.05</text>
<line x1="610.00" y1="374.30" x2="612.20" y2="374.30" stroke="#555" stroke-width="0.7" stroke-linecap="butt"/>
<text x="606.20" y="377.10" font-size="7.9" text-anchor="end" fill="#231f20">–0.10</text>
<line x1="610.00" y1="390.80" x2="612.20" y2="390.80" stroke="#555" stroke-width="0.7" stroke-linecap="butt"/>
<text x="606.20" y="393.60" font-size="7.9" text-anchor="end" fill="#231f20">–0.15</text>
<line x1="631.50" y1="391.00" x2="631.50" y2="392.80" stroke="#555" stroke-width="0.7" stroke-linecap="butt"/>
<line x1="659.80" y1="391.00" x2="659.80" y2="392.80" stroke="#555" stroke-width="0.7" stroke-linecap="butt"/>
<text x="631.50" y="402.60" font-size="7.84" text-anchor="middle" fill="#231f20" textLength="20.57" lengthAdjust="spacingAndGlyphs">Saline</text>
<text x="659.80" y="402.60" font-size="7.84" text-anchor="middle" fill="#231f20" textLength="15.21" lengthAdjust="spacingAndGlyphs">DCZ</text>
<circle cx="631.50" cy="342.62" r="3.8" fill="#595959"/>
<circle cx="659.80" cy="354.17" r="3.8" fill="#0a14f5"/>
<text x="645.70" y="328.20" font-size="12" text-anchor="middle" fill="#231f20">**</text>
<text x="580.00" y="349.30" font-size="8.4" text-anchor="middle" fill="#231f20" transform="rotate(-90 580.00 349.30)" textLength="22.8" lengthAdjust="spacingAndGlyphs">Δ RER</text>
<text x="454.30" y="438.60" font-size="13" text-anchor="start" font-weight="bold" fill="#000">o</text>
<line x1="516.90" y1="483.22" x2="545.20" y2="505.52" stroke="#a0a0a0" stroke-width="0.75" stroke-linecap="butt"/>
<line x1="516.90" y1="490.26" x2="545.20" y2="494.96" stroke="#a0a0a0" stroke-width="0.75" stroke-linecap="butt"/>
<line x1="516.90" y1="492.61" x2="545.20" y2="493.78" stroke="#a0a0a0" stroke-width="0.75" stroke-linecap="butt"/>
<line x1="516.90" y1="493.78" x2="545.20" y2="492.61" stroke="#a0a0a0" stroke-width="0.75" stroke-linecap="butt"/>
<line x1="516.90" y1="502.00" x2="545.20" y2="490.26" stroke="#a0a0a0" stroke-width="0.75" stroke-linecap="butt"/>
<line x1="516.90" y1="504.35" x2="545.20" y2="502.00" stroke="#a0a0a0" stroke-width="0.75" stroke-linecap="butt"/>
<line x1="516.90" y1="489.09" x2="545.20" y2="496.13" stroke="#a0a0a0" stroke-width="0.75" stroke-linecap="butt"/>
<line x1="497.80" y1="502.00" x2="565.30" y2="502.00" stroke="#808080" stroke-width="1.1" stroke-dasharray="3.5 2.4" stroke-linecap="butt"/>
<line x1="497.80" y1="443.20" x2="497.80" y2="525.30" stroke="#b0b0b0" stroke-width="1.0" stroke-linecap="butt"/>
<line x1="497.30" y1="525.30" x2="564.30" y2="525.30" stroke="#707070" stroke-width="0.9" stroke-linecap="butt"/>
<line x1="495.60" y1="443.30" x2="497.80" y2="443.30" stroke="#555" stroke-width="0.7" stroke-linecap="butt"/>
<text x="491.80" y="446.10" font-size="7.9" text-anchor="end" fill="#231f20">0.25</text>
<line x1="495.60" y1="455.04" x2="497.80" y2="455.04" stroke="#555" stroke-width="0.7" stroke-linecap="butt"/>
<text x="491.80" y="457.84" font-size="7.9" text-anchor="end" fill="#231f20">0.20</text>
<line x1="495.60" y1="466.78" x2="497.80" y2="466.78" stroke="#555" stroke-width="0.7" stroke-linecap="butt"/>
<text x="491.80" y="469.58" font-size="7.9" text-anchor="end" fill="#231f20">0.15</text>
<line x1="495.60" y1="478.52" x2="497.80" y2="478.52" stroke="#555" stroke-width="0.7" stroke-linecap="butt"/>
<text x="491.80" y="481.32" font-size="7.9" text-anchor="end" fill="#231f20">0.10</text>
<line x1="495.60" y1="490.26" x2="497.80" y2="490.26" stroke="#555" stroke-width="0.7" stroke-linecap="butt"/>
<text x="491.80" y="493.06" font-size="7.9" text-anchor="end" fill="#231f20">0.05</text>
<line x1="495.60" y1="502.00" x2="497.80" y2="502.00" stroke="#555" stroke-width="0.7" stroke-linecap="butt"/>
<text x="491.80" y="504.80" font-size="7.9" text-anchor="end" fill="#231f20">0</text>
<line x1="495.60" y1="513.74" x2="497.80" y2="513.74" stroke="#555" stroke-width="0.7" stroke-linecap="butt"/>
<text x="491.80" y="516.54" font-size="7.9" text-anchor="end" fill="#231f20">–0.05</text>
<line x1="495.60" y1="525.48" x2="497.80" y2="525.48" stroke="#555" stroke-width="0.7" stroke-linecap="butt"/>
<text x="491.80" y="528.28" font-size="7.9" text-anchor="end" fill="#231f20">–0.10</text>
<line x1="516.90" y1="525.30" x2="516.90" y2="527.10" stroke="#555" stroke-width="0.7" stroke-linecap="butt"/>
<line x1="545.20" y1="525.30" x2="545.20" y2="527.10" stroke="#555" stroke-width="0.7" stroke-linecap="butt"/>
<text x="516.90" y="536.90" font-size="7.84" text-anchor="middle" fill="#231f20" textLength="20.57" lengthAdjust="spacingAndGlyphs">Saline</text>
<text x="545.20" y="536.90" font-size="7.84" text-anchor="middle" fill="#231f20" textLength="15.21" lengthAdjust="spacingAndGlyphs">DCZ</text>
<circle cx="516.90" cy="493.78" r="3.8" fill="#595959"/>
<circle cx="545.20" cy="497.54" r="3.8" fill="#ff8000"/>
<text x="530.60" y="462.30" font-size="8.3" text-anchor="middle" fill="#231f20">NS</text>
<text x="465.20" y="484.40" font-size="8.4" text-anchor="middle" fill="#231f20" transform="rotate(-90 465.20 484.40)" textLength="54.1" lengthAdjust="spacingAndGlyphs">Δ EE (kcal h<tspan font-size="5.6" dy="-3">−1</tspan><tspan dy="3">)</tspan></text>
<text x="573.00" y="439.00" font-size="13" text-anchor="start" font-weight="bold" fill="#000">p</text>
<line x1="631.50" y1="461.15" x2="659.80" y2="489.20" stroke="#a0a0a0" stroke-width="0.75" stroke-linecap="butt"/>
<line x1="631.50" y1="464.45" x2="659.80" y2="485.90" stroke="#a0a0a0" stroke-width="0.75" stroke-linecap="butt"/>
<line x1="631.50" y1="466.10" x2="659.80" y2="477.65" stroke="#a0a0a0" stroke-width="0.75" stroke-linecap="butt"/>
<line x1="631.50" y1="476.00" x2="659.80" y2="482.60" stroke="#a0a0a0" stroke-width="0.75" stroke-linecap="butt"/>
<line x1="631.50" y1="480.95" x2="659.80" y2="490.85" stroke="#a0a0a0" stroke-width="0.75" stroke-linecap="butt"/>
<line x1="631.50" y1="482.60" x2="659.80" y2="485.90" stroke="#a0a0a0" stroke-width="0.75" stroke-linecap="butt"/>
<line x1="631.50" y1="472.70" x2="659.80" y2="479.30" stroke="#a0a0a0" stroke-width="0.75" stroke-linecap="butt"/>
<line x1="612.20" y1="476.00" x2="679.80" y2="476.00" stroke="#808080" stroke-width="1.1" stroke-dasharray="3.5 2.4" stroke-linecap="butt"/>
<line x1="612.20" y1="443.20" x2="612.20" y2="525.30" stroke="#b0b0b0" stroke-width="1.0" stroke-linecap="butt"/>
<line x1="611.70" y1="525.30" x2="678.80" y2="525.30" stroke="#707070" stroke-width="0.9" stroke-linecap="butt"/>
<line x1="610.00" y1="443.00" x2="612.20" y2="443.00" stroke="#555" stroke-width="0.7" stroke-linecap="butt"/>
<text x="606.20" y="445.80" font-size="7.9" text-anchor="end" fill="#231f20">0.10</text>
<line x1="610.00" y1="459.50" x2="612.20" y2="459.50" stroke="#555" stroke-width="0.7" stroke-linecap="butt"/>
<text x="606.20" y="462.30" font-size="7.9" text-anchor="end" fill="#231f20">0.05</text>
<line x1="610.00" y1="476.00" x2="612.20" y2="476.00" stroke="#555" stroke-width="0.7" stroke-linecap="butt"/>
<text x="606.20" y="478.80" font-size="7.9" text-anchor="end" fill="#231f20">0</text>
<line x1="610.00" y1="492.50" x2="612.20" y2="492.50" stroke="#555" stroke-width="0.7" stroke-linecap="butt"/>
<text x="606.20" y="495.30" font-size="7.9" text-anchor="end" fill="#231f20">–0.05</text>
<line x1="610.00" y1="509.00" x2="612.20" y2="509.00" stroke="#555" stroke-width="0.7" stroke-linecap="butt"/>
<text x="606.20" y="511.80" font-size="7.9" text-anchor="end" fill="#231f20">–0.10</text>
<line x1="610.00" y1="525.50" x2="612.20" y2="525.50" stroke="#555" stroke-width="0.7" stroke-linecap="butt"/>
<text x="606.20" y="528.30" font-size="7.9" text-anchor="end" fill="#231f20">–0.15</text>
<line x1="631.50" y1="525.30" x2="631.50" y2="527.10" stroke="#555" stroke-width="0.7" stroke-linecap="butt"/>
<line x1="659.80" y1="525.30" x2="659.80" y2="527.10" stroke="#555" stroke-width="0.7" stroke-linecap="butt"/>
<text x="631.50" y="536.90" font-size="7.84" text-anchor="middle" fill="#231f20" textLength="20.57" lengthAdjust="spacingAndGlyphs">Saline</text>
<text x="659.80" y="536.90" font-size="7.84" text-anchor="middle" fill="#231f20" textLength="15.21" lengthAdjust="spacingAndGlyphs">DCZ</text>
<circle cx="631.50" cy="472.70" r="3.8" fill="#595959"/>
<circle cx="659.80" cy="483.59" r="3.8" fill="#ff8000"/>
<text x="647.00" y="445.80" font-size="12" text-anchor="middle" fill="#231f20">*</text>
<text x="580.00" y="484.00" font-size="8.4" text-anchor="middle" fill="#231f20" transform="rotate(-90 580.00 484.00)" textLength="22.8" lengthAdjust="spacingAndGlyphs">Δ RER</text>
<text x="0.60" y="302.40" font-size="13" text-anchor="start" font-weight="bold" fill="#000">i</text>
<text x="56.00" y="302.90" font-size="8.4" text-anchor="middle" fill="#231f20" textLength="40.3" lengthAdjust="spacingAndGlyphs">MaCPNS1:</text>
<text x="55.80" y="313.20" font-size="8.4" text-anchor="middle" fill="#231f20" textLength="103.8" lengthAdjust="spacingAndGlyphs">CAG–DIO–hM<tspan font-size="6.0" dy="2.3">3</tspan><tspan dy="-2.3">D–mCherry</tspan></text>
<text x="124.80" y="313.20" font-size="8.4" text-anchor="middle" fill="#231f20" textLength="22.2" lengthAdjust="spacingAndGlyphs">OGTT</text>
<text x="157.40" y="313.20" font-size="8.4" text-anchor="middle" fill="#231f20" textLength="22.2" lengthAdjust="spacingAndGlyphs">OGTT</text>
<text x="190.90" y="302.90" font-size="8.4" text-anchor="middle" fill="#231f20" textLength="39.7" lengthAdjust="spacingAndGlyphs">Metabolic</text>
<text x="190.60" y="313.20" font-size="8.4" text-anchor="middle" fill="#231f20" textLength="23.7" lengthAdjust="spacingAndGlyphs">cages</text>
<polygon points="52.20,316.60 60.20,316.60 56.20,324.20" fill="#000"/>
<polygon points="120.80,316.60 128.80,316.60 124.80,324.20" fill="#000"/>
<polygon points="153.80,316.60 161.80,316.60 157.80,324.20" fill="#000"/>
<polygon points="186.90,316.60 194.90,316.60 190.90,324.20" fill="#000"/>
<rect x="56.20" y="326.10" width="134.60" height="17.00" fill="#3366ff" stroke="#1c3d8f" stroke-width="0.9"/>
<line x1="124.50" y1="326.10" x2="124.50" y2="343.10" stroke="#1c3d8f" stroke-width="0.9" stroke-linecap="butt"/>
<line x1="157.50" y1="326.10" x2="157.50" y2="343.10" stroke="#1c3d8f" stroke-width="0.9" stroke-linecap="butt"/>
<text x="89.90" y="337.60" font-size="8.4" text-anchor="middle" fill="#231f20" textLength="29.1" lengthAdjust="spacingAndGlyphs">21 days</text>
<text x="141.00" y="337.60" font-size="8.4" text-anchor="middle" fill="#231f20" textLength="24.7" lengthAdjust="spacingAndGlyphs">7 days</text>
<text x="174.10" y="337.60" font-size="8.4" text-anchor="middle" fill="#231f20" textLength="24.7" lengthAdjust="spacingAndGlyphs">7 days</text>
<text x="52.50" y="337.70" font-size="8.4" text-anchor="end" font-style="italic" fill="#231f20" textLength="40.7" lengthAdjust="spacingAndGlyphs">Vmat1-Cre</text>
<polygon points="12.70,361.60 20.90,361.60 16.80,369.20" fill="#808080"/>
<text x="25.40" y="368.40" font-size="8.4" text-anchor="start" fill="#231f20">SAL</text>
<polygon points="12.70,379.20 20.90,379.20 16.80,386.80" fill="#2f6bff"/>
<text x="25.40" y="386.40" font-size="8.4" text-anchor="start" fill="#231f20">DCZ</text>
<rect x="55.70" y="369.30" width="18.10" height="17.40" fill="#c0c0c0" stroke="#4a5c80" stroke-width="1.1"/>
<text x="64.95" y="376.20" font-size="7.9" text-anchor="middle" fill="#231f20" textLength="14.3" lengthAdjust="spacingAndGlyphs">Day</text>
<text x="64.95" y="385.70" font-size="8.6" text-anchor="middle" fill="#231f20">1</text>
<rect x="73.80" y="369.30" width="17.80" height="17.40" fill="#c0c0c0" stroke="#4a5c80" stroke-width="1.1"/>
<text x="82.90" y="376.20" font-size="7.9" text-anchor="middle" fill="#231f20" textLength="14.3" lengthAdjust="spacingAndGlyphs">Day</text>
<text x="82.90" y="385.70" font-size="8.6" text-anchor="middle" fill="#231f20">2</text>
<rect x="91.60" y="369.30" width="18.00" height="17.40" fill="#c0c0c0" stroke="#4a5c80" stroke-width="1.1"/>
<text x="100.80" y="376.20" font-size="7.9" text-anchor="middle" fill="#231f20" textLength="14.3" lengthAdjust="spacingAndGlyphs">Day</text>
<text x="100.80" y="385.70" font-size="8.6" text-anchor="middle" fill="#231f20">3</text>
<rect x="109.60" y="369.30" width="18.10" height="17.40" fill="#c0c0c0" stroke="#4a5c80" stroke-width="1.1"/>
<text x="118.85" y="376.20" font-size="7.9" text-anchor="middle" fill="#231f20" textLength="14.3" lengthAdjust="spacingAndGlyphs">Day</text>
<text x="118.85" y="385.70" font-size="8.6" text-anchor="middle" fill="#231f20">4</text>
<rect x="127.70" y="369.30" width="18.00" height="17.40" fill="#c0c0c0" stroke="#4a5c80" stroke-width="1.1"/>
<text x="136.90" y="376.20" font-size="7.9" text-anchor="middle" fill="#231f20" textLength="14.3" lengthAdjust="spacingAndGlyphs">Day</text>
<text x="136.90" y="385.70" font-size="8.6" text-anchor="middle" fill="#231f20">5</text>
<polygon points="58.40,361.60 65.60,361.60 62.00,368.40" fill="#808080"/>
<polygon points="76.30,361.60 83.50,361.60 79.90,368.40" fill="#808080"/>
<polygon points="93.80,361.60 101.00,361.60 97.40,368.40" fill="#808080"/>
<polygon points="110.60,361.60 117.80,361.60 114.20,368.40" fill="#808080"/>
<polygon points="119.50,361.60 126.70,361.60 123.10,368.40" fill="#808080"/>
<polygon points="128.30,361.60 135.50,361.60 131.90,368.40" fill="#808080"/>
<polygon points="137.30,361.60 144.50,361.60 140.90,368.40" fill="#808080"/>
<line x1="145.90" y1="377.90" x2="152.60" y2="367.40" stroke="#3c5070" stroke-width="1.2" stroke-linecap="butt"/>
<line x1="145.90" y1="378.90" x2="152.80" y2="388.80" stroke="#3c5070" stroke-width="1.2" stroke-linecap="butt"/>
<polygon points="154.4,364.6 150.9,366.4 153.8,368.2" fill="#3c5070"/>
<polygon points="154.6,391.6 151.1,389.8 154.0,388.0" fill="#3c5070"/>
<rect x="154.70" y="355.40" width="17.90" height="17.10" fill="#3366ff" stroke="#4a5c80" stroke-width="1.1"/>
<rect x="172.60" y="355.40" width="17.90" height="17.10" fill="#c0c0c0" stroke="#4a5c80" stroke-width="1.1"/>
<text x="163.85" y="362.30" font-size="7.9" text-anchor="middle" fill="#231f20" textLength="14.2" lengthAdjust="spacingAndGlyphs">Day</text>
<text x="163.85" y="370.90" font-size="8.6" text-anchor="middle" fill="#231f20">6</text>
<text x="181.75" y="362.30" font-size="7.9" text-anchor="middle" fill="#231f20" textLength="14.2" lengthAdjust="spacingAndGlyphs">Day</text>
<text x="181.75" y="370.90" font-size="8.6" text-anchor="middle" fill="#231f20">7</text>
<polygon points="155.15,347.30 162.45,347.30 158.80,354.20" fill="#2f6bff"/>
<polygon points="163.95,347.30 171.25,347.30 167.60,354.20" fill="#2f6bff"/>
<polygon points="172.95,347.30 180.25,347.30 176.60,354.20" fill="#808080"/>
<polygon points="182.05,347.30 189.35,347.30 185.70,354.20" fill="#808080"/>
<rect x="154.70" y="383.60" width="17.90" height="17.10" fill="#c0c0c0" stroke="#4a5c80" stroke-width="1.1"/>
<rect x="172.60" y="383.60" width="17.90" height="17.10" fill="#3366ff" stroke="#4a5c80" stroke-width="1.1"/>
<text x="163.85" y="390.50" font-size="7.9" text-anchor="middle" fill="#231f20" textLength="14.2" lengthAdjust="spacingAndGlyphs">Day</text>
<text x="163.85" y="399.10" font-size="8.6" text-anchor="middle" fill="#231f20">6</text>
<text x="181.75" y="390.50" font-size="7.9" text-anchor="middle" fill="#231f20" textLength="14.2" lengthAdjust="spacingAndGlyphs">Day</text>
<text x="181.75" y="399.10" font-size="8.6" text-anchor="middle" fill="#231f20">7</text>
<polygon points="155.15,375.70 162.45,375.70 158.80,382.60" fill="#808080"/>
<polygon points="163.95,375.70 171.25,375.70 167.60,382.60" fill="#808080"/>
<polygon points="172.95,375.70 180.25,375.70 176.60,382.60" fill="#2f6bff"/>
<polygon points="182.05,375.70 189.35,375.70 185.70,382.60" fill="#2f6bff"/>
<text x="0.00" y="439.10" font-size="13" text-anchor="start" font-weight="bold" fill="#000">m</text>
<text x="56.00" y="438.90" font-size="8.4" text-anchor="middle" fill="#231f20" textLength="40.3" lengthAdjust="spacingAndGlyphs">MaCPNS1:</text>
<text x="55.80" y="449.20" font-size="8.4" text-anchor="middle" fill="#231f20" textLength="103.8" lengthAdjust="spacingAndGlyphs">CAG–DIO–hM<tspan font-size="6.0" dy="2.3">3</tspan><tspan dy="-2.3">D–mCherry</tspan></text>
<text x="124.80" y="449.20" font-size="8.4" text-anchor="middle" fill="#231f20" textLength="22.2" lengthAdjust="spacingAndGlyphs">OGTT</text>
<text x="157.40" y="449.20" font-size="8.4" text-anchor="middle" fill="#231f20" textLength="22.2" lengthAdjust="spacingAndGlyphs">OGTT</text>
<text x="190.90" y="438.90" font-size="8.4" text-anchor="middle" fill="#231f20" textLength="39.7" lengthAdjust="spacingAndGlyphs">Metabolic</text>
<text x="190.60" y="449.20" font-size="8.4" text-anchor="middle" fill="#231f20" textLength="23.7" lengthAdjust="spacingAndGlyphs">cages</text>
<polygon points="52.20,452.60 60.20,452.60 56.20,460.20" fill="#000"/>
<polygon points="120.80,452.60 128.80,452.60 124.80,460.20" fill="#000"/>
<polygon points="153.80,452.60 161.80,452.60 157.80,460.20" fill="#000"/>
<polygon points="186.90,452.60 194.90,452.60 190.90,460.20" fill="#000"/>
<rect x="56.20" y="462.10" width="134.60" height="17.00" fill="#ff8000" stroke="#5b6b8c" stroke-width="0.9"/>
<line x1="124.50" y1="462.10" x2="124.50" y2="479.10" stroke="#5b6b8c" stroke-width="0.9" stroke-linecap="butt"/>
<line x1="157.50" y1="462.10" x2="157.50" y2="479.10" stroke="#5b6b8c" stroke-width="0.9" stroke-linecap="butt"/>
<text x="89.90" y="473.60" font-size="8.4" text-anchor="middle" fill="#231f20" textLength="29.1" lengthAdjust="spacingAndGlyphs">21 days</text>
<text x="141.00" y="473.60" font-size="8.4" text-anchor="middle" fill="#231f20" textLength="24.7" lengthAdjust="spacingAndGlyphs">7 days</text>
<text x="174.10" y="473.60" font-size="8.4" text-anchor="middle" fill="#231f20" textLength="24.7" lengthAdjust="spacingAndGlyphs">7 days</text>
<text x="52.50" y="473.70" font-size="8.4" text-anchor="end" font-style="italic" fill="#231f20" textLength="38.2" lengthAdjust="spacingAndGlyphs">Rxfp1-Cre</text>
<polygon points="12.70,497.60 20.90,497.60 16.80,505.20" fill="#808080"/>
<text x="25.40" y="504.40" font-size="8.4" text-anchor="start" fill="#231f20">SAL</text>
<polygon points="12.70,515.20 20.90,515.20 16.80,522.80" fill="#ff8000"/>
<text x="25.40" y="522.40" font-size="8.4" text-anchor="start" fill="#231f20">DCZ</text>
<rect x="55.70" y="505.30" width="18.10" height="17.40" fill="#c0c0c0" stroke="#4a5c80" stroke-width="1.1"/>
<text x="64.95" y="512.20" font-size="7.9" text-anchor="middle" fill="#231f20" textLength="14.3" lengthAdjust="spacingAndGlyphs">Day</text>
<text x="64.95" y="521.70" font-size="8.6" text-anchor="middle" fill="#231f20">1</text>
<rect x="73.80" y="505.30" width="17.80" height="17.40" fill="#c0c0c0" stroke="#4a5c80" stroke-width="1.1"/>
<text x="82.90" y="512.20" font-size="7.9" text-anchor="middle" fill="#231f20" textLength="14.3" lengthAdjust="spacingAndGlyphs">Day</text>
<text x="82.90" y="521.70" font-size="8.6" text-anchor="middle" fill="#231f20">2</text>
<rect x="91.60" y="505.30" width="18.00" height="17.40" fill="#c0c0c0" stroke="#4a5c80" stroke-width="1.1"/>
<text x="100.80" y="512.20" font-size="7.9" text-anchor="middle" fill="#231f20" textLength="14.3" lengthAdjust="spacingAndGlyphs">Day</text>
<text x="100.80" y="521.70" font-size="8.6" text-anchor="middle" fill="#231f20">3</text>
<rect x="109.60" y="505.30" width="18.10" height="17.40" fill="#c0c0c0" stroke="#4a5c80" stroke-width="1.1"/>
<text x="118.85" y="512.20" font-size="7.9" text-anchor="middle" fill="#231f20" textLength="14.3" lengthAdjust="spacingAndGlyphs">Day</text>
<text x="118.85" y="521.70" font-size="8.6" text-anchor="middle" fill="#231f20">4</text>
<rect x="127.70" y="505.30" width="18.00" height="17.40" fill="#c0c0c0" stroke="#4a5c80" stroke-width="1.1"/>
<text x="136.90" y="512.20" font-size="7.9" text-anchor="middle" fill="#231f20" textLength="14.3" lengthAdjust="spacingAndGlyphs">Day</text>
<text x="136.90" y="521.70" font-size="8.6" text-anchor="middle" fill="#231f20">5</text>
<polygon points="58.40,497.60 65.60,497.60 62.00,504.40" fill="#808080"/>
<polygon points="76.30,497.60 83.50,497.60 79.90,504.40" fill="#808080"/>
<polygon points="93.80,497.60 101.00,497.60 97.40,504.40" fill="#808080"/>
<polygon points="110.60,497.60 117.80,497.60 114.20,504.40" fill="#808080"/>
<polygon points="119.50,497.60 126.70,497.60 123.10,504.40" fill="#808080"/>
<polygon points="128.30,497.60 135.50,497.60 131.90,504.40" fill="#808080"/>
<polygon points="137.30,497.60 144.50,497.60 140.90,504.40" fill="#808080"/>
<line x1="145.90" y1="513.90" x2="152.60" y2="503.40" stroke="#3c5070" stroke-width="1.2" stroke-linecap="butt"/>
<line x1="145.90" y1="514.90" x2="152.80" y2="524.80" stroke="#3c5070" stroke-width="1.2" stroke-linecap="butt"/>
<polygon points="154.4,500.6 150.9,502.4 153.8,504.2" fill="#3c5070"/>
<polygon points="154.6,527.6 151.1,525.8 154.0,524.0" fill="#3c5070"/>
<rect x="154.70" y="491.40" width="17.90" height="17.10" fill="#ff8000" stroke="#4a5c80" stroke-width="1.1"/>
<rect x="172.60" y="491.40" width="17.90" height="17.10" fill="#c0c0c0" stroke="#4a5c80" stroke-width="1.1"/>
<text x="163.85" y="498.30" font-size="7.9" text-anchor="middle" fill="#231f20" textLength="14.2" lengthAdjust="spacingAndGlyphs">Day</text>
<text x="163.85" y="506.90" font-size="8.6" text-anchor="middle" fill="#231f20">6</text>
<text x="181.75" y="498.30" font-size="7.9" text-anchor="middle" fill="#231f20" textLength="14.2" lengthAdjust="spacingAndGlyphs">Day</text>
<text x="181.75" y="506.90" font-size="8.6" text-anchor="middle" fill="#231f20">7</text>
<polygon points="155.15,483.30 162.45,483.30 158.80,490.20" fill="#ff8000"/>
<polygon points="163.95,483.30 171.25,483.30 167.60,490.20" fill="#ff8000"/>
<polygon points="172.95,483.30 180.25,483.30 176.60,490.20" fill="#808080"/>
<polygon points="182.05,483.30 189.35,483.30 185.70,490.20" fill="#808080"/>
<rect x="154.70" y="519.60" width="17.90" height="17.10" fill="#c0c0c0" stroke="#4a5c80" stroke-width="1.1"/>
<rect x="172.60" y="519.60" width="17.90" height="17.10" fill="#ff8000" stroke="#4a5c80" stroke-width="1.1"/>
<text x="163.85" y="526.50" font-size="7.9" text-anchor="middle" fill="#231f20" textLength="14.2" lengthAdjust="spacingAndGlyphs">Day</text>
<text x="163.85" y="535.10" font-size="8.6" text-anchor="middle" fill="#231f20">6</text>
<text x="181.75" y="526.50" font-size="7.9" text-anchor="middle" fill="#231f20" textLength="14.2" lengthAdjust="spacingAndGlyphs">Day</text>
<text x="181.75" y="535.10" font-size="8.6" text-anchor="middle" fill="#231f20">7</text>
<polygon points="155.15,511.70 162.45,511.70 158.80,518.60" fill="#808080"/>
<polygon points="163.95,511.70 171.25,511.70 167.60,518.60" fill="#808080"/>
<polygon points="172.95,511.70 180.25,511.70 176.60,518.60" fill="#ff8000"/>
<polygon points="182.05,511.70 189.35,511.70 185.70,518.60" fill="#ff8000"/>
<text x="224.90" y="302.50" font-size="13" text-anchor="start" font-weight="bold" fill="#000">j</text>
<polygon points="256.90,358.50 259.30,357.50 263.10,349.00 268.30,355.20 272.10,344.90 276.50,356.50 280.60,364.10 283.90,362.70 287.30,367.90 293.40,337.90 295.80,358.00 299.60,360.80 302.40,361.30 305.30,357.00 308.60,365.10 313.80,340.90 317.60,345.20 320.20,352.80 323.50,356.10 326.40,363.70 329.20,362.70 332.60,364.60 335.40,362.70 338.70,366.50 342.00,368.90 345.40,367.90 347.70,366.50 351.10,367.90 353.90,367.50 356.70,364.60 359.60,365.60 362.40,365.10 366.20,364.60 369.60,363.70 374.80,364.10 377.80,359.40 381.20,344.20 384.50,361.80 387.30,351.90 390.20,359.90 393.00,362.20 396.30,355.60 400.10,358.50 403.50,353.70 405.80,349.30 408.70,354.70 411.50,361.30 414.80,363.70 418.20,366.00 422.40,368.90 426.20,368.40 432.40,366.00 435.70,368.40 438.60,369.80 438.60,379.30 435.70,377.90 432.40,375.50 426.20,377.90 422.40,380.40 418.20,377.50 414.80,373.20 411.50,370.80 408.70,364.20 405.80,362.30 403.50,363.20 400.10,368.00 396.30,365.10 393.00,371.70 390.20,369.40 387.30,368.90 384.50,371.30 381.20,364.20 377.80,368.90 374.80,373.60 369.60,373.20 366.20,374.10 362.40,374.60 359.60,375.10 356.70,374.10 353.90,377.00 351.10,377.40 347.70,376.00 345.40,377.40 342.00,379.40 338.70,376.00 335.40,372.20 332.60,374.10 329.20,372.20 326.40,373.20 323.50,365.60 320.20,362.30 317.60,354.70 313.80,350.40 308.60,374.60 305.30,366.50 302.40,370.80 299.60,370.30 295.80,367.50 293.40,359.90 287.30,380.40 283.90,372.20 280.60,373.60 276.50,366.00 272.10,358.90 268.30,364.20 263.10,358.50 259.30,367.00 256.90,368.00" fill="#b4b4b4" fill-opacity="0.75"/>
<polygon points="256.90,349.70 258.80,355.40 263.10,349.70 267.30,356.30 272.10,365.30 274.90,363.40 278.20,365.30 281.10,355.10 283.90,362.90 287.30,360.10 291.10,354.40 293.40,358.20 295.80,357.70 299.10,357.30 302.40,346.10 305.30,349.40 308.10,349.20 311.50,353.90 314.30,328.30 317.80,345.40 320.20,342.50 323.50,342.50 326.40,351.60 329.20,353.90 332.60,356.80 335.40,356.30 339.20,358.70 344.40,358.70 347.70,362.00 350.60,363.90 353.40,360.10 356.30,358.20 359.10,364.80 362.00,359.20 365.30,361.00 368.60,359.20 371.90,344.10 375.20,347.80 378.10,356.30 381.20,357.30 384.00,361.00 386.90,364.80 390.20,362.00 393.00,361.50 396.30,350.80 400.10,357.70 402.50,358.20 405.80,360.10 408.70,359.20 411.50,366.30 415.80,366.70 420.50,358.00 423.90,362.00 428.10,362.90 432.40,364.80 435.70,352.20 438.60,354.40 438.60,362.00 435.70,362.00 432.40,372.40 428.10,370.50 423.90,369.60 420.50,366.80 415.80,374.30 411.50,375.10 408.70,366.80 405.80,367.70 402.50,365.80 400.10,365.30 396.30,360.60 393.00,369.10 390.20,369.60 386.90,372.40 384.00,368.60 381.20,364.90 378.10,363.90 375.20,355.40 371.90,353.90 368.60,366.80 365.30,368.60 362.00,366.80 359.10,372.40 356.30,365.80 353.40,367.70 350.60,371.50 347.70,369.60 344.40,366.30 339.20,366.30 335.40,363.90 332.60,364.40 329.20,361.50 326.40,359.20 323.50,350.10 320.20,350.10 317.80,353.00 314.30,341.10 311.50,361.50 308.10,356.80 305.30,362.40 302.40,359.10 299.10,364.90 295.80,365.30 293.40,365.80 291.10,362.00 287.30,367.70 283.90,370.50 281.10,364.90 278.20,372.90 274.90,371.00 272.10,372.90 267.30,365.10 263.10,360.50 258.80,363.00 256.90,357.30" fill="#a8a8f6" fill-opacity="0.7"/>
<polyline points="256.90,363.00 259.30,362.00 263.10,353.50 268.30,359.20 272.10,353.90 276.50,361.00 280.60,368.60 283.90,367.20 287.30,372.40 293.40,354.90 295.80,362.50 299.60,365.30 302.40,365.80 305.30,361.50 308.60,369.60 313.80,345.40 317.60,349.70 320.20,357.30 323.50,360.60 326.40,368.20 329.20,367.20 332.60,369.10 335.40,367.20 338.70,371.00 342.00,373.40 345.40,372.40 347.70,371.00 351.10,372.40 353.90,372.00 356.70,369.10 359.60,370.10 362.40,369.60 366.20,369.10 369.60,368.20 374.80,368.60 377.80,363.90 381.20,359.20 384.50,366.30 387.30,363.90 390.20,364.40 393.00,366.70 396.30,360.10 400.10,363.00 403.50,358.20 405.80,357.30 408.70,359.20 411.50,365.80 414.80,368.20 418.20,370.50 422.40,373.40 426.20,372.90 432.40,370.50 435.70,372.90 438.60,374.30" fill="none" stroke="#1a1a1a" stroke-width="1.0" stroke-linejoin="round"/>
<polyline points="256.90,353.50 258.80,359.20 263.10,353.50 267.30,360.10 272.10,369.10 274.90,367.20 278.20,369.10 281.10,361.10 283.90,366.70 287.30,363.90 291.10,358.20 293.40,362.00 295.80,361.50 299.10,361.10 302.40,351.10 305.30,355.40 308.10,353.00 311.50,357.70 314.30,337.30 317.80,349.20 320.20,346.30 323.50,346.30 326.40,355.40 329.20,357.70 332.60,360.60 335.40,360.10 339.20,362.50 344.40,362.50 347.70,365.80 350.60,367.70 353.40,363.90 356.30,362.00 359.10,368.60 362.00,363.00 365.30,364.80 368.60,363.00 371.90,350.10 375.20,351.60 378.10,360.10 381.20,361.10 384.00,364.80 386.90,368.60 390.20,365.80 393.00,365.30 396.30,356.80 400.10,361.50 402.50,362.00 405.80,363.90 408.70,363.00 411.50,370.10 415.80,370.50 420.50,363.00 423.90,365.80 428.10,366.70 432.40,368.60 435.70,358.20 438.60,358.20" fill="none" stroke="#1e1eff" stroke-width="1.05" stroke-linejoin="round"/>
<line x1="256.90" y1="308.40" x2="256.90" y2="391.40" stroke="#c8c8c8" stroke-width="1.5" stroke-linecap="butt"/>
<line x1="256.40" y1="391.40" x2="438.80" y2="391.40" stroke="#666" stroke-width="0.9" stroke-linecap="butt"/>
<line x1="254.60" y1="308.30" x2="256.90" y2="308.30" stroke="#666" stroke-width="0.7" stroke-linecap="butt"/>
<text x="250.40" y="311.20" font-size="8.85" text-anchor="end" fill="#231f20" textLength="10.98" lengthAdjust="spacingAndGlyphs">0.8</text>
<line x1="254.60" y1="335.90" x2="256.90" y2="335.90" stroke="#666" stroke-width="0.7" stroke-linecap="butt"/>
<text x="250.40" y="338.80" font-size="8.85" text-anchor="end" fill="#231f20" textLength="10.98" lengthAdjust="spacingAndGlyphs">0.6</text>
<line x1="254.60" y1="363.50" x2="256.90" y2="363.50" stroke="#666" stroke-width="0.7" stroke-linecap="butt"/>
<text x="250.40" y="366.40" font-size="8.85" text-anchor="end" fill="#231f20" textLength="10.98" lengthAdjust="spacingAndGlyphs">0.4</text>
<line x1="254.60" y1="391.10" x2="256.90" y2="391.10" stroke="#666" stroke-width="0.7" stroke-linecap="butt"/>
<text x="250.40" y="394.00" font-size="8.85" text-anchor="end" fill="#231f20" textLength="10.98" lengthAdjust="spacingAndGlyphs">0.2</text>
<line x1="256.54" y1="391.40" x2="256.54" y2="393.40" stroke="#999" stroke-width="0.7" stroke-linecap="butt"/>
<text x="256.54" y="403.30" font-size="8.74" text-anchor="middle" fill="#231f20" textLength="13.01" lengthAdjust="spacingAndGlyphs">–60</text>
<line x1="271.70" y1="391.40" x2="271.70" y2="393.40" stroke="#999" stroke-width="0.7" stroke-linecap="butt"/>
<text x="271.70" y="403.30" font-size="8.74" text-anchor="middle" fill="#231f20" textLength="13.01" lengthAdjust="spacingAndGlyphs">–45</text>
<line x1="286.87" y1="391.40" x2="286.87" y2="393.40" stroke="#999" stroke-width="0.7" stroke-linecap="butt"/>
<text x="286.87" y="403.30" font-size="8.74" text-anchor="middle" fill="#231f20" textLength="13.01" lengthAdjust="spacingAndGlyphs">–30</text>
<line x1="302.03" y1="391.40" x2="302.03" y2="393.40" stroke="#999" stroke-width="0.7" stroke-linecap="butt"/>
<text x="302.03" y="403.30" font-size="8.74" text-anchor="middle" fill="#231f20" textLength="13.01" lengthAdjust="spacingAndGlyphs">–15</text>
<line x1="317.20" y1="391.40" x2="317.20" y2="393.40" stroke="#999" stroke-width="0.7" stroke-linecap="butt"/>
<text x="317.20" y="403.30" font-size="8.74" text-anchor="middle" fill="#231f20" textLength="4.34" lengthAdjust="spacingAndGlyphs">0</text>
<line x1="332.37" y1="391.40" x2="332.37" y2="393.40" stroke="#999" stroke-width="0.7" stroke-linecap="butt"/>
<text x="332.37" y="403.30" font-size="8.74" text-anchor="middle" fill="#231f20" textLength="8.68" lengthAdjust="spacingAndGlyphs">15</text>
<line x1="347.53" y1="391.40" x2="347.53" y2="393.40" stroke="#999" stroke-width="0.7" stroke-linecap="butt"/>
<text x="347.53" y="403.30" font-size="8.74" text-anchor="middle" fill="#231f20" textLength="8.68" lengthAdjust="spacingAndGlyphs">30</text>
<line x1="362.69" y1="391.40" x2="362.69" y2="393.40" stroke="#999" stroke-width="0.7" stroke-linecap="butt"/>
<text x="362.69" y="403.30" font-size="8.74" text-anchor="middle" fill="#231f20" textLength="8.68" lengthAdjust="spacingAndGlyphs">45</text>
<line x1="377.86" y1="391.40" x2="377.86" y2="393.40" stroke="#999" stroke-width="0.7" stroke-linecap="butt"/>
<text x="377.86" y="403.30" font-size="8.74" text-anchor="middle" fill="#231f20" textLength="8.68" lengthAdjust="spacingAndGlyphs">60</text>
<line x1="393.02" y1="391.40" x2="393.02" y2="393.40" stroke="#999" stroke-width="0.7" stroke-linecap="butt"/>
<text x="393.02" y="403.30" font-size="8.74" text-anchor="middle" fill="#231f20" textLength="8.68" lengthAdjust="spacingAndGlyphs">75</text>
<line x1="408.19" y1="391.40" x2="408.19" y2="393.40" stroke="#999" stroke-width="0.7" stroke-linecap="butt"/>
<text x="408.19" y="403.30" font-size="8.74" text-anchor="middle" fill="#231f20" textLength="8.68" lengthAdjust="spacingAndGlyphs">90</text>
<line x1="423.35" y1="391.40" x2="423.35" y2="393.40" stroke="#999" stroke-width="0.7" stroke-linecap="butt"/>
<text x="423.35" y="403.30" font-size="8.74" text-anchor="middle" fill="#231f20" textLength="13.01" lengthAdjust="spacingAndGlyphs">105</text>
<line x1="438.52" y1="391.40" x2="438.52" y2="393.40" stroke="#999" stroke-width="0.7" stroke-linecap="butt"/>
<text x="438.52" y="403.30" font-size="8.74" text-anchor="middle" fill="#231f20" textLength="13.01" lengthAdjust="spacingAndGlyphs">120</text>
<text x="348.00" y="416.20" font-size="8.4" text-anchor="middle" fill="#231f20" textLength="42.1" lengthAdjust="spacingAndGlyphs">Time (min)</text>
<text x="231.70" y="349.80" font-size="8.4" text-anchor="middle" fill="#231f20" transform="rotate(-90 231.70 349.80)" textLength="46.5" lengthAdjust="spacingAndGlyphs">EE (kcal h<tspan font-size="5.6" dy="-3">−1</tspan><tspan dy="3">)</tspan></text>
<line x1="317.30" y1="307.60" x2="317.30" y2="391.40" stroke="#333" stroke-width="0.9" stroke-dasharray="3.2 2.0" stroke-linecap="butt"/>
<text x="317.80" y="307.40" font-size="8.4" text-anchor="middle" fill="#231f20" textLength="34.4" lengthAdjust="spacingAndGlyphs">Injection</text>
<text x="287.70" y="319.50" font-size="8.4" text-anchor="middle" fill="#231f20" textLength="32.1" lengthAdjust="spacingAndGlyphs">Baseline</text>
<line x1="263.00" y1="322.10" x2="316.20" y2="322.10" stroke="#999" stroke-width="1.0" stroke-linecap="butt"/>
<text x="350.80" y="319.50" font-size="8.4" text-anchor="middle" fill="#231f20" textLength="38.0" lengthAdjust="spacingAndGlyphs">Response</text>
<line x1="323.90" y1="322.10" x2="378.00" y2="322.10" stroke="#999" stroke-width="1.0" stroke-linecap="butt"/>
<line x1="398.90" y1="316.60" x2="406.40" y2="316.60" stroke="#1e1eff" stroke-width="1.1" stroke-linecap="butt"/>
<text x="410.20" y="319.20" font-size="8.0" text-anchor="start" fill="#231f20" textLength="14.2" lengthAdjust="spacingAndGlyphs">DCZ</text>
<line x1="398.90" y1="329.50" x2="406.40" y2="329.50" stroke="#1a1a1a" stroke-width="1.1" stroke-linecap="butt"/>
<text x="410.20" y="332.00" font-size="8.0" text-anchor="start" fill="#231f20" textLength="13.0" lengthAdjust="spacingAndGlyphs">SAL</text>
<text x="225.00" y="438.70" font-size="13" text-anchor="start" font-weight="bold" fill="#000">n</text>
<polygon points="256.40,496.80 259.30,495.90 262.40,479.60 265.20,493.00 268.30,488.30 271.60,490.60 274.40,494.40 277.80,499.20 280.60,498.20 283.50,495.40 286.30,494.00 289.20,496.80 292.50,498.70 295.30,492.50 299.10,493.80 302.40,492.80 306.20,489.70 310.50,479.30 313.80,490.60 316.70,484.90 320.70,484.90 323.10,485.90 325.90,491.10 329.20,495.90 332.10,494.40 334.90,498.20 340.10,497.80 343.50,498.20 346.80,495.90 349.60,497.30 353.00,498.70 356.30,494.00 359.10,495.90 362.40,493.00 365.30,488.30 368.10,489.70 371.50,483.10 374.80,484.90 377.40,487.30 380.20,485.90 383.10,492.50 386.40,496.80 389.20,496.80 392.60,481.60 395.40,483.00 398.20,474.90 401.60,470.20 404.40,477.80 407.70,480.60 410.60,478.30 413.40,475.40 416.70,478.70 419.60,484.90 422.90,479.70 426.20,476.80 428.60,465.80 431.50,481.10 434.80,486.30 437.60,483.00 437.60,492.50 434.80,498.80 431.50,490.60 428.60,478.80 426.20,486.30 422.90,489.20 419.60,494.40 416.70,488.20 413.40,484.90 410.60,487.80 407.70,490.10 404.40,487.30 401.60,480.20 398.20,484.40 395.40,492.50 392.60,491.10 389.20,506.30 386.40,506.30 383.10,502.00 380.20,495.40 377.40,496.80 374.80,494.40 371.50,492.60 368.10,499.20 365.30,497.80 362.40,502.50 359.10,505.40 356.30,503.50 353.00,508.20 349.60,506.80 346.80,505.40 343.50,507.70 340.10,507.30 334.90,507.70 332.10,503.90 329.20,505.40 325.90,500.60 323.10,495.40 320.70,494.40 316.70,494.40 313.80,500.10 310.50,488.80 306.20,499.20 302.40,502.30 299.10,503.30 295.30,502.00 292.50,508.20 289.20,506.30 286.30,503.50 283.50,504.90 280.60,507.70 277.80,508.70 274.40,503.90 271.60,500.10 268.30,497.80 265.20,502.50 262.40,492.60 259.30,505.40 256.40,506.30" fill="#b4b4b4" fill-opacity="0.75"/>
<polygon points="256.40,497.80 259.30,496.80 262.10,498.90 268.30,494.00 271.60,501.60 277.30,493.00 280.60,494.00 283.50,495.90 286.80,502.00 290.10,499.20 295.30,487.80 298.20,485.30 301.50,477.70 304.30,484.40 307.70,488.30 310.50,481.20 313.80,490.20 317.10,484.00 322.60,484.50 325.40,492.10 328.80,495.90 331.60,497.80 334.90,494.90 340.60,495.90 343.90,498.20 346.80,494.00 350.10,488.30 353.00,491.10 356.30,489.20 359.10,490.20 362.40,493.00 364.80,494.40 368.10,483.50 371.50,476.90 374.30,471.20 377.10,475.50 380.20,487.80 383.50,488.20 386.90,493.00 390.20,487.80 393.00,478.60 395.40,475.90 398.70,485.90 402.00,482.50 404.90,479.20 407.70,473.50 411.00,474.00 413.40,472.60 416.60,465.00 419.60,478.70 422.90,478.70 426.20,476.40 429.10,477.80 431.70,471.20 434.80,479.70 437.60,475.90 437.60,484.90 434.80,488.70 431.70,480.20 429.10,486.80 426.20,485.40 422.90,487.70 419.60,487.70 416.60,474.00 413.40,481.60 411.00,483.00 407.70,482.50 404.90,488.20 402.00,491.50 398.70,494.90 395.40,484.90 393.00,490.10 390.20,496.80 386.90,502.00 383.50,497.20 380.20,496.80 377.10,484.50 374.30,480.70 371.50,485.90 368.10,492.50 364.80,503.40 362.40,502.00 359.10,499.20 356.30,498.20 353.00,500.10 350.10,497.30 346.80,503.00 343.90,507.20 340.60,504.90 334.90,503.90 331.60,506.80 328.80,504.90 325.40,501.10 322.60,493.50 317.10,493.00 313.80,502.70 310.50,490.20 307.70,497.30 304.30,494.90 301.50,492.70 298.20,495.80 295.30,496.80 290.10,508.20 286.80,511.00 283.50,504.90 280.60,503.00 277.30,502.00 271.60,512.10 268.30,503.00 262.10,507.90 259.30,505.80 256.40,506.80" fill="#fcc9a0" fill-opacity="0.7"/>
<polyline points="256.40,501.30 259.30,500.40 262.40,487.60 265.20,497.50 268.30,492.80 271.60,495.10 274.40,498.90 277.80,503.70 280.60,502.70 283.50,499.90 286.30,498.50 289.20,501.30 292.50,503.20 295.30,497.00 299.10,498.30 302.40,497.30 306.20,494.20 310.50,483.80 313.80,495.10 316.70,489.40 320.70,489.40 323.10,490.40 325.90,495.60 329.20,500.40 332.10,498.90 334.90,502.70 340.10,502.30 343.50,502.70 346.80,500.40 349.60,501.80 353.00,503.20 356.30,498.50 359.10,500.40 362.40,497.50 365.30,492.80 368.10,494.20 371.50,487.60 374.80,489.40 377.40,491.80 380.20,490.40 383.10,497.00 386.40,501.30 389.20,501.30 392.60,486.10 395.40,487.50 398.20,479.40 401.60,475.20 404.40,482.30 407.70,485.10 410.60,482.80 413.40,479.90 416.70,483.20 419.60,489.40 422.90,484.20 426.20,481.30 428.60,473.80 431.50,485.60 434.80,490.80 437.60,487.50" fill="none" stroke="#1a1a1a" stroke-width="1.0" stroke-linejoin="round"/>
<polyline points="256.40,502.30 259.30,501.30 262.10,503.40 268.30,498.50 271.60,506.10 277.30,497.50 280.60,498.50 283.50,500.40 286.80,506.50 290.10,503.70 295.30,492.30 298.20,491.30 301.50,485.70 304.30,490.40 307.70,492.80 310.50,485.70 313.80,494.70 317.10,488.50 322.60,489.00 325.40,496.60 328.80,500.40 331.60,502.30 334.90,499.40 340.60,500.40 343.90,502.70 346.80,498.50 350.10,492.80 353.00,495.60 356.30,493.70 359.10,494.70 362.40,497.50 364.80,498.90 368.10,488.00 371.50,481.40 374.30,476.20 377.10,480.00 380.20,492.30 383.50,492.70 386.90,497.50 390.20,492.30 393.00,485.60 395.40,480.40 398.70,490.40 402.00,487.00 404.90,483.70 407.70,478.00 411.00,478.50 413.40,477.10 416.60,469.50 419.60,483.20 422.90,483.20 426.20,480.90 429.10,482.30 431.70,475.70 434.80,484.20 437.60,480.40" fill="none" stroke="#fa6e1e" stroke-width="1.05" stroke-linejoin="round"/>
<line x1="256.90" y1="442.40" x2="256.90" y2="525.40" stroke="#777" stroke-width="1.0" stroke-linecap="butt"/>
<line x1="256.40" y1="525.40" x2="438.80" y2="525.40" stroke="#666" stroke-width="0.9" stroke-linecap="butt"/>
<line x1="254.60" y1="442.30" x2="256.90" y2="442.30" stroke="#666" stroke-width="0.7" stroke-linecap="butt"/>
<text x="250.40" y="445.20" font-size="8.85" text-anchor="end" fill="#231f20" textLength="10.98" lengthAdjust="spacingAndGlyphs">0.8</text>
<line x1="254.60" y1="469.90" x2="256.90" y2="469.90" stroke="#666" stroke-width="0.7" stroke-linecap="butt"/>
<text x="250.40" y="472.80" font-size="8.85" text-anchor="end" fill="#231f20" textLength="10.98" lengthAdjust="spacingAndGlyphs">0.6</text>
<line x1="254.60" y1="497.50" x2="256.90" y2="497.50" stroke="#666" stroke-width="0.7" stroke-linecap="butt"/>
<text x="250.40" y="500.40" font-size="8.85" text-anchor="end" fill="#231f20" textLength="10.98" lengthAdjust="spacingAndGlyphs">0.4</text>
<line x1="254.60" y1="525.10" x2="256.90" y2="525.10" stroke="#666" stroke-width="0.7" stroke-linecap="butt"/>
<text x="250.40" y="528.00" font-size="8.85" text-anchor="end" fill="#231f20" textLength="10.98" lengthAdjust="spacingAndGlyphs">0.2</text>
<line x1="256.54" y1="525.40" x2="256.54" y2="527.40" stroke="#999" stroke-width="0.7" stroke-linecap="butt"/>
<text x="256.54" y="537.30" font-size="8.74" text-anchor="middle" fill="#231f20" textLength="13.01" lengthAdjust="spacingAndGlyphs">–60</text>
<line x1="271.70" y1="525.40" x2="271.70" y2="527.40" stroke="#999" stroke-width="0.7" stroke-linecap="butt"/>
<text x="271.70" y="537.30" font-size="8.74" text-anchor="middle" fill="#231f20" textLength="13.01" lengthAdjust="spacingAndGlyphs">–45</text>
<line x1="286.87" y1="525.40" x2="286.87" y2="527.40" stroke="#999" stroke-width="0.7" stroke-linecap="butt"/>
<text x="286.87" y="537.30" font-size="8.74" text-anchor="middle" fill="#231f20" textLength="13.01" lengthAdjust="spacingAndGlyphs">–30</text>
<line x1="302.03" y1="525.40" x2="302.03" y2="527.40" stroke="#999" stroke-width="0.7" stroke-linecap="butt"/>
<text x="302.03" y="537.30" font-size="8.74" text-anchor="middle" fill="#231f20" textLength="13.01" lengthAdjust="spacingAndGlyphs">–15</text>
<line x1="317.20" y1="525.40" x2="317.20" y2="527.40" stroke="#999" stroke-width="0.7" stroke-linecap="butt"/>
<text x="317.20" y="537.30" font-size="8.74" text-anchor="middle" fill="#231f20" textLength="4.34" lengthAdjust="spacingAndGlyphs">0</text>
<line x1="332.37" y1="525.40" x2="332.37" y2="527.40" stroke="#999" stroke-width="0.7" stroke-linecap="butt"/>
<text x="332.37" y="537.30" font-size="8.74" text-anchor="middle" fill="#231f20" textLength="8.68" lengthAdjust="spacingAndGlyphs">15</text>
<line x1="347.53" y1="525.40" x2="347.53" y2="527.40" stroke="#999" stroke-width="0.7" stroke-linecap="butt"/>
<text x="347.53" y="537.30" font-size="8.74" text-anchor="middle" fill="#231f20" textLength="8.68" lengthAdjust="spacingAndGlyphs">30</text>
<line x1="362.69" y1="525.40" x2="362.69" y2="527.40" stroke="#999" stroke-width="0.7" stroke-linecap="butt"/>
<text x="362.69" y="537.30" font-size="8.74" text-anchor="middle" fill="#231f20" textLength="8.68" lengthAdjust="spacingAndGlyphs">45</text>
<line x1="377.86" y1="525.40" x2="377.86" y2="527.40" stroke="#999" stroke-width="0.7" stroke-linecap="butt"/>
<text x="377.86" y="537.30" font-size="8.74" text-anchor="middle" fill="#231f20" textLength="8.68" lengthAdjust="spacingAndGlyphs">60</text>
<line x1="393.02" y1="525.40" x2="393.02" y2="527.40" stroke="#999" stroke-width="0.7" stroke-linecap="butt"/>
<text x="393.02" y="537.30" font-size="8.74" text-anchor="middle" fill="#231f20" textLength="8.68" lengthAdjust="spacingAndGlyphs">75</text>
<line x1="408.19" y1="525.40" x2="408.19" y2="527.40" stroke="#999" stroke-width="0.7" stroke-linecap="butt"/>
<text x="408.19" y="537.30" font-size="8.74" text-anchor="middle" fill="#231f20" textLength="8.68" lengthAdjust="spacingAndGlyphs">90</text>
<line x1="423.35" y1="525.40" x2="423.35" y2="527.40" stroke="#999" stroke-width="0.7" stroke-linecap="butt"/>
<text x="423.35" y="537.30" font-size="8.74" text-anchor="middle" fill="#231f20" textLength="13.01" lengthAdjust="spacingAndGlyphs">105</text>
<line x1="438.52" y1="525.40" x2="438.52" y2="527.40" stroke="#999" stroke-width="0.7" stroke-linecap="butt"/>
<text x="438.52" y="537.30" font-size="8.74" text-anchor="middle" fill="#231f20" textLength="13.01" lengthAdjust="spacingAndGlyphs">120</text>
<text x="348.00" y="550.20" font-size="8.4" text-anchor="middle" fill="#231f20" textLength="42.1" lengthAdjust="spacingAndGlyphs">Time (min)</text>
<text x="231.70" y="483.80" font-size="8.4" text-anchor="middle" fill="#231f20" transform="rotate(-90 231.70 483.80)" textLength="46.5" lengthAdjust="spacingAndGlyphs">EE (kcal h<tspan font-size="5.6" dy="-3">−1</tspan><tspan dy="3">)</tspan></text>
<line x1="317.30" y1="442.70" x2="317.30" y2="525.40" stroke="#666" stroke-width="0.9" stroke-dasharray="3.2 2.0" stroke-linecap="butt"/>
<text x="317.80" y="442.50" font-size="8.4" text-anchor="middle" fill="#231f20" textLength="34.4" lengthAdjust="spacingAndGlyphs">Injection</text>
<text x="287.70" y="451.10" font-size="8.4" text-anchor="middle" fill="#231f20" textLength="32.1" lengthAdjust="spacingAndGlyphs">Baseline</text>
<line x1="263.00" y1="453.70" x2="316.20" y2="453.70" stroke="#c4c4c4" stroke-width="1.2" stroke-linecap="butt"/>
<text x="350.80" y="451.10" font-size="8.4" text-anchor="middle" fill="#231f20" textLength="38.0" lengthAdjust="spacingAndGlyphs">Response</text>
<line x1="323.90" y1="453.70" x2="378.00" y2="453.70" stroke="#c4c4c4" stroke-width="1.2" stroke-linecap="butt"/>
<line x1="398.90" y1="448.60" x2="406.40" y2="448.60" stroke="#fa6e1e" stroke-width="1.1" stroke-linecap="butt"/>
<text x="410.20" y="451.20" font-size="8.0" text-anchor="start" fill="#231f20" textLength="14.2" lengthAdjust="spacingAndGlyphs">DCZ</text>
<line x1="398.90" y1="459.40" x2="406.40" y2="459.40" stroke="#1a1a1a" stroke-width="1.1" stroke-linecap="butt"/>
<text x="410.20" y="461.90" font-size="8.0" text-anchor="start" fill="#231f20" textLength="13.0" lengthAdjust="spacingAndGlyphs">SAL</text>
<text x="0.70" y="572.80" font-size="13" text-anchor="start" font-weight="bold" fill="#000">q</text>
<line x1="43.50" y1="578.70" x2="43.50" y2="632.70" stroke="#c0c0c0" stroke-width="1.4" stroke-linecap="butt"/>
<line x1="43.00" y1="632.70" x2="158.40" y2="632.70" stroke="#707070" stroke-width="0.9" stroke-linecap="butt"/>
<line x1="41.30" y1="578.70" x2="43.50" y2="578.70" stroke="#555" stroke-width="0.7" stroke-linecap="butt"/>
<text x="36.90" y="581.60" font-size="8.69" text-anchor="end" fill="#231f20" textLength="13.18" lengthAdjust="spacingAndGlyphs">500</text>
<line x1="41.30" y1="589.50" x2="43.50" y2="589.50" stroke="#555" stroke-width="0.7" stroke-linecap="butt"/>
<text x="36.90" y="592.40" font-size="8.69" text-anchor="end" fill="#231f20" textLength="13.18" lengthAdjust="spacingAndGlyphs">400</text>
<line x1="41.30" y1="600.30" x2="43.50" y2="600.30" stroke="#555" stroke-width="0.7" stroke-linecap="butt"/>
<text x="36.90" y="603.20" font-size="8.69" text-anchor="end" fill="#231f20" textLength="13.18" lengthAdjust="spacingAndGlyphs">300</text>
<line x1="41.30" y1="611.10" x2="43.50" y2="611.10" stroke="#555" stroke-width="0.7" stroke-linecap="butt"/>
<text x="36.90" y="614.00" font-size="8.69" text-anchor="end" fill="#231f20" textLength="13.18" lengthAdjust="spacingAndGlyphs">200</text>
<line x1="41.30" y1="621.90" x2="43.50" y2="621.90" stroke="#555" stroke-width="0.7" stroke-linecap="butt"/>
<text x="36.90" y="624.80" font-size="8.69" text-anchor="end" fill="#231f20" textLength="13.18" lengthAdjust="spacingAndGlyphs">100</text>
<line x1="41.30" y1="632.70" x2="43.50" y2="632.70" stroke="#555" stroke-width="0.7" stroke-linecap="butt"/>
<text x="36.90" y="635.60" font-size="8.69" text-anchor="end" fill="#231f20" textLength="4.39" lengthAdjust="spacingAndGlyphs">0</text>
<line x1="43.50" y1="632.70" x2="43.50" y2="634.50" stroke="#555" stroke-width="0.7" stroke-linecap="butt"/>
<text x="43.50" y="644.50" font-size="8.69" text-anchor="middle" fill="#231f20" textLength="4.39" lengthAdjust="spacingAndGlyphs">0</text>
<line x1="57.80" y1="632.70" x2="57.80" y2="634.50" stroke="#555" stroke-width="0.7" stroke-linecap="butt"/>
<text x="57.80" y="644.50" font-size="8.69" text-anchor="middle" fill="#231f20" textLength="8.79" lengthAdjust="spacingAndGlyphs">15</text>
<line x1="72.10" y1="632.70" x2="72.10" y2="634.50" stroke="#555" stroke-width="0.7" stroke-linecap="butt"/>
<text x="72.10" y="644.50" font-size="8.69" text-anchor="middle" fill="#231f20" textLength="8.79" lengthAdjust="spacingAndGlyphs">30</text>
<line x1="86.40" y1="632.70" x2="86.40" y2="634.50" stroke="#555" stroke-width="0.7" stroke-linecap="butt"/>
<text x="86.40" y="644.50" font-size="8.69" text-anchor="middle" fill="#231f20" textLength="8.79" lengthAdjust="spacingAndGlyphs">45</text>
<line x1="100.70" y1="632.70" x2="100.70" y2="634.50" stroke="#555" stroke-width="0.7" stroke-linecap="butt"/>
<text x="100.70" y="644.50" font-size="8.69" text-anchor="middle" fill="#231f20" textLength="8.79" lengthAdjust="spacingAndGlyphs">60</text>
<line x1="129.30" y1="632.70" x2="129.30" y2="634.50" stroke="#555" stroke-width="0.7" stroke-linecap="butt"/>
<text x="129.30" y="644.50" font-size="8.69" text-anchor="middle" fill="#231f20" textLength="8.79" lengthAdjust="spacingAndGlyphs">90</text>
<line x1="157.90" y1="632.70" x2="157.90" y2="634.50" stroke="#555" stroke-width="0.7" stroke-linecap="butt"/>
<text x="157.90" y="644.50" font-size="8.69" text-anchor="middle" fill="#231f20" textLength="13.18" lengthAdjust="spacingAndGlyphs">120</text>
<text x="100.70" y="657.30" font-size="8.4" text-anchor="middle" fill="#231f20" textLength="42.1" lengthAdjust="spacingAndGlyphs">Time (min)</text>
<line x1="43.50" y1="619.96" x2="43.50" y2="621.68" stroke="#222" stroke-width="0.7" stroke-linecap="butt"/>
<line x1="41.70" y1="619.96" x2="45.30" y2="619.96" stroke="#222" stroke-width="0.7" stroke-linecap="butt"/>
<line x1="41.70" y1="621.68" x2="45.30" y2="621.68" stroke="#222" stroke-width="0.7" stroke-linecap="butt"/>
<line x1="57.80" y1="600.84" x2="57.80" y2="603.00" stroke="#222" stroke-width="0.7" stroke-linecap="butt"/>
<line x1="56.00" y1="600.84" x2="59.60" y2="600.84" stroke="#222" stroke-width="0.7" stroke-linecap="butt"/>
<line x1="56.00" y1="603.00" x2="59.60" y2="603.00" stroke="#222" stroke-width="0.7" stroke-linecap="butt"/>
<line x1="72.10" y1="604.73" x2="72.10" y2="607.75" stroke="#222" stroke-width="0.7" stroke-linecap="butt"/>
<line x1="70.30" y1="604.73" x2="73.90" y2="604.73" stroke="#222" stroke-width="0.7" stroke-linecap="butt"/>
<line x1="70.30" y1="607.75" x2="73.90" y2="607.75" stroke="#222" stroke-width="0.7" stroke-linecap="butt"/>
<line x1="86.40" y1="607.10" x2="86.40" y2="609.70" stroke="#222" stroke-width="0.7" stroke-linecap="butt"/>
<line x1="84.60" y1="607.10" x2="88.20" y2="607.10" stroke="#222" stroke-width="0.7" stroke-linecap="butt"/>
<line x1="84.60" y1="609.70" x2="88.20" y2="609.70" stroke="#222" stroke-width="0.7" stroke-linecap="butt"/>
<line x1="100.70" y1="611.64" x2="100.70" y2="613.80" stroke="#222" stroke-width="0.7" stroke-linecap="butt"/>
<line x1="98.90" y1="611.64" x2="102.50" y2="611.64" stroke="#222" stroke-width="0.7" stroke-linecap="butt"/>
<line x1="98.90" y1="613.80" x2="102.50" y2="613.80" stroke="#222" stroke-width="0.7" stroke-linecap="butt"/>
<line x1="129.30" y1="613.26" x2="129.30" y2="616.50" stroke="#222" stroke-width="0.7" stroke-linecap="butt"/>
<line x1="127.50" y1="613.26" x2="131.10" y2="613.26" stroke="#222" stroke-width="0.7" stroke-linecap="butt"/>
<line x1="127.50" y1="616.50" x2="131.10" y2="616.50" stroke="#222" stroke-width="0.7" stroke-linecap="butt"/>
<line x1="157.90" y1="617.26" x2="157.90" y2="618.98" stroke="#222" stroke-width="0.7" stroke-linecap="butt"/>
<line x1="156.10" y1="617.26" x2="159.70" y2="617.26" stroke="#222" stroke-width="0.7" stroke-linecap="butt"/>
<line x1="156.10" y1="618.98" x2="159.70" y2="618.98" stroke="#222" stroke-width="0.7" stroke-linecap="butt"/>
<polyline points="43.50,620.82 57.80,601.92 72.10,606.24 86.40,608.40 100.70,612.72 129.30,614.88 157.90,618.12" fill="none" stroke="#222" stroke-width="0.9" stroke-linejoin="round"/>
<line x1="43.50" y1="619.20" x2="43.50" y2="621.36" stroke="#2424e6" stroke-width="0.7" stroke-linecap="butt"/>
<line x1="41.70" y1="619.20" x2="45.30" y2="619.20" stroke="#2424e6" stroke-width="0.7" stroke-linecap="butt"/>
<line x1="41.70" y1="621.36" x2="45.30" y2="621.36" stroke="#2424e6" stroke-width="0.7" stroke-linecap="butt"/>
<line x1="57.80" y1="597.60" x2="57.80" y2="601.92" stroke="#2424e6" stroke-width="0.7" stroke-linecap="butt"/>
<line x1="56.00" y1="597.60" x2="59.60" y2="597.60" stroke="#2424e6" stroke-width="0.7" stroke-linecap="butt"/>
<line x1="56.00" y1="601.92" x2="59.60" y2="601.92" stroke="#2424e6" stroke-width="0.7" stroke-linecap="butt"/>
<line x1="72.10" y1="606.24" x2="72.10" y2="609.48" stroke="#2424e6" stroke-width="0.7" stroke-linecap="butt"/>
<line x1="70.30" y1="606.24" x2="73.90" y2="606.24" stroke="#2424e6" stroke-width="0.7" stroke-linecap="butt"/>
<line x1="70.30" y1="609.48" x2="73.90" y2="609.48" stroke="#2424e6" stroke-width="0.7" stroke-linecap="butt"/>
<line x1="86.40" y1="608.94" x2="86.40" y2="612.18" stroke="#2424e6" stroke-width="0.7" stroke-linecap="butt"/>
<line x1="84.60" y1="608.94" x2="88.20" y2="608.94" stroke="#2424e6" stroke-width="0.7" stroke-linecap="butt"/>
<line x1="84.60" y1="612.18" x2="88.20" y2="612.18" stroke="#2424e6" stroke-width="0.7" stroke-linecap="butt"/>
<line x1="100.70" y1="612.18" x2="100.70" y2="615.42" stroke="#2424e6" stroke-width="0.7" stroke-linecap="butt"/>
<line x1="98.90" y1="612.18" x2="102.50" y2="612.18" stroke="#2424e6" stroke-width="0.7" stroke-linecap="butt"/>
<line x1="98.90" y1="615.42" x2="102.50" y2="615.42" stroke="#2424e6" stroke-width="0.7" stroke-linecap="butt"/>
<line x1="129.30" y1="614.88" x2="129.30" y2="617.04" stroke="#2424e6" stroke-width="0.7" stroke-linecap="butt"/>
<line x1="127.50" y1="614.88" x2="131.10" y2="614.88" stroke="#2424e6" stroke-width="0.7" stroke-linecap="butt"/>
<line x1="127.50" y1="617.04" x2="131.10" y2="617.04" stroke="#2424e6" stroke-width="0.7" stroke-linecap="butt"/>
<line x1="157.90" y1="616.50" x2="157.90" y2="618.66" stroke="#2424e6" stroke-width="0.7" stroke-linecap="butt"/>
<line x1="156.10" y1="616.50" x2="159.70" y2="616.50" stroke="#2424e6" stroke-width="0.7" stroke-linecap="butt"/>
<line x1="156.10" y1="618.66" x2="159.70" y2="618.66" stroke="#2424e6" stroke-width="0.7" stroke-linecap="butt"/>
<polyline points="43.50,620.28 57.80,599.76 72.10,607.86 86.40,610.56 100.70,613.80 129.30,615.96 157.90,617.58" fill="none" stroke="#2424e6" stroke-width="1.1" stroke-linejoin="round"/>
<text x="8.00" y="606.20" font-size="8.4" text-anchor="middle" fill="#231f20" transform="rotate(-90 8.00 606.20)" textLength="56.5" lengthAdjust="spacingAndGlyphs">Blood glucose</text>
<text x="17.40" y="607.10" font-size="8.4" text-anchor="middle" fill="#231f20" transform="rotate(-90 17.40 607.10)" textLength="35.5" lengthAdjust="spacingAndGlyphs">(mg dl<tspan font-size="5.6" dy="-3">−1</tspan><tspan dy="3">)</tspan></text>
<line x1="125.20" y1="584.10" x2="132.50" y2="584.10" stroke="#2424e6" stroke-width="1.1" stroke-linecap="butt"/>
<text x="135.40" y="586.60" font-size="8.0" text-anchor="start" fill="#231f20" textLength="14.2" lengthAdjust="spacingAndGlyphs">DCZ</text>
<line x1="125.20" y1="593.20" x2="132.50" y2="593.20" stroke="#222" stroke-width="1.1" stroke-linecap="butt"/>
<text x="135.40" y="595.70" font-size="8.0" text-anchor="start" fill="#231f20" textLength="13.0" lengthAdjust="spacingAndGlyphs">SAL</text>
<text x="174.60" y="571.90" font-size="13" text-anchor="start" font-weight="bold" fill="#000">r</text>
<line x1="218.60" y1="596.63" x2="334.00" y2="596.63" stroke="#9a9a9a" stroke-width="0.9" stroke-dasharray="3.0 2.2" stroke-linecap="butt"/>
<line x1="218.60" y1="578.70" x2="218.60" y2="632.50" stroke="#c0c0c0" stroke-width="1.4" stroke-linecap="butt"/>
<line x1="218.10" y1="632.50" x2="333.50" y2="632.50" stroke="#707070" stroke-width="0.9" stroke-linecap="butt"/>
<line x1="216.40" y1="578.70" x2="218.60" y2="578.70" stroke="#555" stroke-width="0.7" stroke-linecap="butt"/>
<text x="212.30" y="581.60" font-size="8.69" text-anchor="end" fill="#231f20" textLength="13.18" lengthAdjust="spacingAndGlyphs">100</text>
<line x1="216.40" y1="587.67" x2="218.60" y2="587.67" stroke="#555" stroke-width="0.7" stroke-linecap="butt"/>
<text x="212.30" y="590.57" font-size="8.69" text-anchor="end" fill="#231f20" textLength="8.79" lengthAdjust="spacingAndGlyphs">50</text>
<line x1="216.40" y1="596.63" x2="218.60" y2="596.63" stroke="#555" stroke-width="0.7" stroke-linecap="butt"/>
<text x="212.30" y="599.53" font-size="8.69" text-anchor="end" fill="#231f20" textLength="4.39" lengthAdjust="spacingAndGlyphs">0</text>
<line x1="216.40" y1="605.60" x2="218.60" y2="605.60" stroke="#555" stroke-width="0.7" stroke-linecap="butt"/>
<text x="212.30" y="608.50" font-size="8.69" text-anchor="end" fill="#231f20" textLength="13.18" lengthAdjust="spacingAndGlyphs">–50</text>
<line x1="216.40" y1="614.57" x2="218.60" y2="614.57" stroke="#555" stroke-width="0.7" stroke-linecap="butt"/>
<text x="212.30" y="617.47" font-size="8.69" text-anchor="end" fill="#231f20" textLength="17.58" lengthAdjust="spacingAndGlyphs">–100</text>
<line x1="216.40" y1="623.53" x2="218.60" y2="623.53" stroke="#555" stroke-width="0.7" stroke-linecap="butt"/>
<text x="212.30" y="626.43" font-size="8.69" text-anchor="end" fill="#231f20" textLength="17.58" lengthAdjust="spacingAndGlyphs">–150</text>
<line x1="216.40" y1="632.50" x2="218.60" y2="632.50" stroke="#555" stroke-width="0.7" stroke-linecap="butt"/>
<text x="212.30" y="635.40" font-size="8.69" text-anchor="end" fill="#231f20" textLength="17.58" lengthAdjust="spacingAndGlyphs">–200</text>
<line x1="218.60" y1="632.50" x2="218.60" y2="634.30" stroke="#555" stroke-width="0.7" stroke-linecap="butt"/>
<text x="218.60" y="644.30" font-size="8.69" text-anchor="middle" fill="#231f20" textLength="4.39" lengthAdjust="spacingAndGlyphs">0</text>
<line x1="232.90" y1="632.50" x2="232.90" y2="634.30" stroke="#555" stroke-width="0.7" stroke-linecap="butt"/>
<text x="232.90" y="644.30" font-size="8.69" text-anchor="middle" fill="#231f20" textLength="8.79" lengthAdjust="spacingAndGlyphs">15</text>
<line x1="247.20" y1="632.50" x2="247.20" y2="634.30" stroke="#555" stroke-width="0.7" stroke-linecap="butt"/>
<text x="247.20" y="644.30" font-size="8.69" text-anchor="middle" fill="#231f20" textLength="8.79" lengthAdjust="spacingAndGlyphs">30</text>
<line x1="261.50" y1="632.50" x2="261.50" y2="634.30" stroke="#555" stroke-width="0.7" stroke-linecap="butt"/>
<text x="261.50" y="644.30" font-size="8.69" text-anchor="middle" fill="#231f20" textLength="8.79" lengthAdjust="spacingAndGlyphs">45</text>
<line x1="275.80" y1="632.50" x2="275.80" y2="634.30" stroke="#555" stroke-width="0.7" stroke-linecap="butt"/>
<text x="275.80" y="644.30" font-size="8.69" text-anchor="middle" fill="#231f20" textLength="8.79" lengthAdjust="spacingAndGlyphs">60</text>
<line x1="304.40" y1="632.50" x2="304.40" y2="634.30" stroke="#555" stroke-width="0.7" stroke-linecap="butt"/>
<text x="304.40" y="644.30" font-size="8.69" text-anchor="middle" fill="#231f20" textLength="8.79" lengthAdjust="spacingAndGlyphs">90</text>
<line x1="333.00" y1="632.50" x2="333.00" y2="634.30" stroke="#555" stroke-width="0.7" stroke-linecap="butt"/>
<text x="333.00" y="644.30" font-size="8.69" text-anchor="middle" fill="#231f20" textLength="13.18" lengthAdjust="spacingAndGlyphs">120</text>
<text x="275.80" y="657.10" font-size="8.4" text-anchor="middle" fill="#231f20" textLength="42.1" lengthAdjust="spacingAndGlyphs">Time (min)</text>
<line x1="232.90" y1="586.59" x2="232.90" y2="599.68" stroke="#2424e6" stroke-width="0.7" stroke-linecap="butt"/>
<line x1="231.10" y1="586.59" x2="234.70" y2="586.59" stroke="#2424e6" stroke-width="0.7" stroke-linecap="butt"/>
<line x1="231.10" y1="599.68" x2="234.70" y2="599.68" stroke="#2424e6" stroke-width="0.7" stroke-linecap="butt"/>
<line x1="247.20" y1="594.30" x2="247.20" y2="603.27" stroke="#2424e6" stroke-width="0.7" stroke-linecap="butt"/>
<line x1="245.40" y1="594.30" x2="249.00" y2="594.30" stroke="#2424e6" stroke-width="0.7" stroke-linecap="butt"/>
<line x1="245.40" y1="603.27" x2="249.00" y2="603.27" stroke="#2424e6" stroke-width="0.7" stroke-linecap="butt"/>
<line x1="261.50" y1="596.99" x2="261.50" y2="604.17" stroke="#2424e6" stroke-width="0.7" stroke-linecap="butt"/>
<line x1="259.70" y1="596.99" x2="263.30" y2="596.99" stroke="#2424e6" stroke-width="0.7" stroke-linecap="butt"/>
<line x1="259.70" y1="604.17" x2="263.30" y2="604.17" stroke="#2424e6" stroke-width="0.7" stroke-linecap="butt"/>
<line x1="275.80" y1="596.10" x2="275.80" y2="601.48" stroke="#2424e6" stroke-width="0.7" stroke-linecap="butt"/>
<line x1="274.00" y1="596.10" x2="277.60" y2="596.10" stroke="#2424e6" stroke-width="0.7" stroke-linecap="butt"/>
<line x1="274.00" y1="601.48" x2="277.60" y2="601.48" stroke="#2424e6" stroke-width="0.7" stroke-linecap="butt"/>
<line x1="304.40" y1="596.10" x2="304.40" y2="601.48" stroke="#2424e6" stroke-width="0.7" stroke-linecap="butt"/>
<line x1="302.60" y1="596.10" x2="306.20" y2="596.10" stroke="#2424e6" stroke-width="0.7" stroke-linecap="butt"/>
<line x1="302.60" y1="601.48" x2="306.20" y2="601.48" stroke="#2424e6" stroke-width="0.7" stroke-linecap="butt"/>
<line x1="333.00" y1="593.76" x2="333.00" y2="596.63" stroke="#2424e6" stroke-width="0.7" stroke-linecap="butt"/>
<line x1="331.20" y1="593.76" x2="334.80" y2="593.76" stroke="#2424e6" stroke-width="0.7" stroke-linecap="butt"/>
<line x1="331.20" y1="596.63" x2="334.80" y2="596.63" stroke="#2424e6" stroke-width="0.7" stroke-linecap="butt"/>
<polyline points="218.60,597.17 232.90,593.41 247.20,598.79 261.50,600.58 275.80,598.79 304.40,598.79 333.00,595.20" fill="none" stroke="#2424e6" stroke-width="1.0" stroke-linejoin="round"/>
<text x="179.00" y="606.40" font-size="8.4" text-anchor="middle" fill="#231f20" transform="rotate(-90 179.00 606.40)" textLength="56.5" lengthAdjust="spacingAndGlyphs">Blood glucose</text>
<text x="189.80" y="607.30" font-size="8.4" text-anchor="middle" fill="#231f20" transform="rotate(-90 189.80 607.30)" textLength="35.5" lengthAdjust="spacingAndGlyphs">(mg dl<tspan font-size="5.6" dy="-3">−1</tspan><tspan dy="3">)</tspan></text>
<text x="346.60" y="572.50" font-size="13" text-anchor="start" font-weight="bold" fill="#000">s</text>
<line x1="390.60" y1="579.00" x2="390.60" y2="633.00" stroke="#c0c0c0" stroke-width="1.4" stroke-linecap="butt"/>
<line x1="390.10" y1="633.00" x2="504.70" y2="633.00" stroke="#707070" stroke-width="0.9" stroke-linecap="butt"/>
<line x1="388.40" y1="579.00" x2="390.60" y2="579.00" stroke="#555" stroke-width="0.7" stroke-linecap="butt"/>
<text x="384.40" y="581.90" font-size="8.69" text-anchor="end" fill="#231f20" textLength="13.18" lengthAdjust="spacingAndGlyphs">500</text>
<line x1="388.40" y1="589.80" x2="390.60" y2="589.80" stroke="#555" stroke-width="0.7" stroke-linecap="butt"/>
<text x="384.40" y="592.70" font-size="8.69" text-anchor="end" fill="#231f20" textLength="13.18" lengthAdjust="spacingAndGlyphs">400</text>
<line x1="388.40" y1="600.60" x2="390.60" y2="600.60" stroke="#555" stroke-width="0.7" stroke-linecap="butt"/>
<text x="384.40" y="603.50" font-size="8.69" text-anchor="end" fill="#231f20" textLength="13.18" lengthAdjust="spacingAndGlyphs">300</text>
<line x1="388.40" y1="611.40" x2="390.60" y2="611.40" stroke="#555" stroke-width="0.7" stroke-linecap="butt"/>
<text x="384.40" y="614.30" font-size="8.69" text-anchor="end" fill="#231f20" textLength="13.18" lengthAdjust="spacingAndGlyphs">200</text>
<line x1="388.40" y1="622.20" x2="390.60" y2="622.20" stroke="#555" stroke-width="0.7" stroke-linecap="butt"/>
<text x="384.40" y="625.10" font-size="8.69" text-anchor="end" fill="#231f20" textLength="13.18" lengthAdjust="spacingAndGlyphs">100</text>
<line x1="388.40" y1="633.00" x2="390.60" y2="633.00" stroke="#555" stroke-width="0.7" stroke-linecap="butt"/>
<text x="384.40" y="635.90" font-size="8.69" text-anchor="end" fill="#231f20" textLength="4.39" lengthAdjust="spacingAndGlyphs">0</text>
<line x1="390.60" y1="633.00" x2="390.60" y2="634.80" stroke="#555" stroke-width="0.7" stroke-linecap="butt"/>
<text x="390.60" y="644.80" font-size="8.69" text-anchor="middle" fill="#231f20" textLength="4.39" lengthAdjust="spacingAndGlyphs">0</text>
<line x1="404.80" y1="633.00" x2="404.80" y2="634.80" stroke="#555" stroke-width="0.7" stroke-linecap="butt"/>
<text x="404.80" y="644.80" font-size="8.69" text-anchor="middle" fill="#231f20" textLength="8.79" lengthAdjust="spacingAndGlyphs">15</text>
<line x1="419.00" y1="633.00" x2="419.00" y2="634.80" stroke="#555" stroke-width="0.7" stroke-linecap="butt"/>
<text x="419.00" y="644.80" font-size="8.69" text-anchor="middle" fill="#231f20" textLength="8.79" lengthAdjust="spacingAndGlyphs">30</text>
<line x1="433.20" y1="633.00" x2="433.20" y2="634.80" stroke="#555" stroke-width="0.7" stroke-linecap="butt"/>
<text x="433.20" y="644.80" font-size="8.69" text-anchor="middle" fill="#231f20" textLength="8.79" lengthAdjust="spacingAndGlyphs">45</text>
<line x1="447.40" y1="633.00" x2="447.40" y2="634.80" stroke="#555" stroke-width="0.7" stroke-linecap="butt"/>
<text x="447.40" y="644.80" font-size="8.69" text-anchor="middle" fill="#231f20" textLength="8.79" lengthAdjust="spacingAndGlyphs">60</text>
<line x1="475.80" y1="633.00" x2="475.80" y2="634.80" stroke="#555" stroke-width="0.7" stroke-linecap="butt"/>
<text x="475.80" y="644.80" font-size="8.69" text-anchor="middle" fill="#231f20" textLength="8.79" lengthAdjust="spacingAndGlyphs">90</text>
<line x1="504.20" y1="633.00" x2="504.20" y2="634.80" stroke="#555" stroke-width="0.7" stroke-linecap="butt"/>
<text x="504.20" y="644.80" font-size="8.69" text-anchor="middle" fill="#231f20" textLength="13.18" lengthAdjust="spacingAndGlyphs">120</text>
<text x="447.40" y="657.60" font-size="8.4" text-anchor="middle" fill="#231f20" textLength="42.1" lengthAdjust="spacingAndGlyphs">Time (min)</text>
<line x1="390.60" y1="611.62" x2="390.60" y2="613.34" stroke="#222" stroke-width="0.7" stroke-linecap="butt"/>
<line x1="388.80" y1="611.62" x2="392.40" y2="611.62" stroke="#222" stroke-width="0.7" stroke-linecap="butt"/>
<line x1="388.80" y1="613.34" x2="392.40" y2="613.34" stroke="#222" stroke-width="0.7" stroke-linecap="butt"/>
<line x1="404.80" y1="586.78" x2="404.80" y2="590.66" stroke="#222" stroke-width="0.7" stroke-linecap="butt"/>
<line x1="403.00" y1="586.78" x2="406.60" y2="586.78" stroke="#222" stroke-width="0.7" stroke-linecap="butt"/>
<line x1="403.00" y1="590.66" x2="406.60" y2="590.66" stroke="#222" stroke-width="0.7" stroke-linecap="butt"/>
<line x1="419.00" y1="593.58" x2="419.00" y2="596.82" stroke="#222" stroke-width="0.7" stroke-linecap="butt"/>
<line x1="417.20" y1="593.58" x2="420.80" y2="593.58" stroke="#222" stroke-width="0.7" stroke-linecap="butt"/>
<line x1="417.20" y1="596.82" x2="420.80" y2="596.82" stroke="#222" stroke-width="0.7" stroke-linecap="butt"/>
<line x1="433.20" y1="602.76" x2="433.20" y2="604.92" stroke="#222" stroke-width="0.7" stroke-linecap="butt"/>
<line x1="431.40" y1="602.76" x2="435.00" y2="602.76" stroke="#222" stroke-width="0.7" stroke-linecap="butt"/>
<line x1="431.40" y1="604.92" x2="435.00" y2="604.92" stroke="#222" stroke-width="0.7" stroke-linecap="butt"/>
<line x1="447.40" y1="605.46" x2="447.40" y2="607.62" stroke="#222" stroke-width="0.7" stroke-linecap="butt"/>
<line x1="445.60" y1="605.46" x2="449.20" y2="605.46" stroke="#222" stroke-width="0.7" stroke-linecap="butt"/>
<line x1="445.60" y1="607.62" x2="449.20" y2="607.62" stroke="#222" stroke-width="0.7" stroke-linecap="butt"/>
<line x1="475.80" y1="609.78" x2="475.80" y2="611.94" stroke="#222" stroke-width="0.7" stroke-linecap="butt"/>
<line x1="474.00" y1="609.78" x2="477.60" y2="609.78" stroke="#222" stroke-width="0.7" stroke-linecap="butt"/>
<line x1="474.00" y1="611.94" x2="477.60" y2="611.94" stroke="#222" stroke-width="0.7" stroke-linecap="butt"/>
<line x1="504.20" y1="613.24" x2="504.20" y2="614.96" stroke="#222" stroke-width="0.7" stroke-linecap="butt"/>
<line x1="502.40" y1="613.24" x2="506.00" y2="613.24" stroke="#222" stroke-width="0.7" stroke-linecap="butt"/>
<line x1="502.40" y1="614.96" x2="506.00" y2="614.96" stroke="#222" stroke-width="0.7" stroke-linecap="butt"/>
<polyline points="390.60,612.48 404.80,588.72 419.00,595.20 433.20,603.84 447.40,606.54 475.80,610.86 504.20,614.10" fill="none" stroke="#222" stroke-width="0.9" stroke-linejoin="round"/>
<line x1="390.60" y1="613.56" x2="390.60" y2="615.72" stroke="#f0782a" stroke-width="0.7" stroke-linecap="butt"/>
<line x1="388.80" y1="613.56" x2="392.40" y2="613.56" stroke="#f0782a" stroke-width="0.7" stroke-linecap="butt"/>
<line x1="388.80" y1="615.72" x2="392.40" y2="615.72" stroke="#f0782a" stroke-width="0.7" stroke-linecap="butt"/>
<line x1="404.80" y1="595.20" x2="404.80" y2="599.52" stroke="#f0782a" stroke-width="0.7" stroke-linecap="butt"/>
<line x1="403.00" y1="595.20" x2="406.60" y2="595.20" stroke="#f0782a" stroke-width="0.7" stroke-linecap="butt"/>
<line x1="403.00" y1="599.52" x2="406.60" y2="599.52" stroke="#f0782a" stroke-width="0.7" stroke-linecap="butt"/>
<line x1="419.00" y1="599.30" x2="419.00" y2="601.90" stroke="#f0782a" stroke-width="0.7" stroke-linecap="butt"/>
<line x1="417.20" y1="599.30" x2="420.80" y2="599.30" stroke="#f0782a" stroke-width="0.7" stroke-linecap="butt"/>
<line x1="417.20" y1="601.90" x2="420.80" y2="601.90" stroke="#f0782a" stroke-width="0.7" stroke-linecap="butt"/>
<line x1="433.20" y1="604.92" x2="433.20" y2="607.08" stroke="#f0782a" stroke-width="0.7" stroke-linecap="butt"/>
<line x1="431.40" y1="604.92" x2="435.00" y2="604.92" stroke="#f0782a" stroke-width="0.7" stroke-linecap="butt"/>
<line x1="431.40" y1="607.08" x2="435.00" y2="607.08" stroke="#f0782a" stroke-width="0.7" stroke-linecap="butt"/>
<line x1="447.40" y1="607.08" x2="447.40" y2="609.24" stroke="#f0782a" stroke-width="0.7" stroke-linecap="butt"/>
<line x1="445.60" y1="607.08" x2="449.20" y2="607.08" stroke="#f0782a" stroke-width="0.7" stroke-linecap="butt"/>
<line x1="445.60" y1="609.24" x2="449.20" y2="609.24" stroke="#f0782a" stroke-width="0.7" stroke-linecap="butt"/>
<line x1="475.80" y1="612.26" x2="475.80" y2="614.86" stroke="#f0782a" stroke-width="0.7" stroke-linecap="butt"/>
<line x1="474.00" y1="612.26" x2="477.60" y2="612.26" stroke="#f0782a" stroke-width="0.7" stroke-linecap="butt"/>
<line x1="474.00" y1="614.86" x2="477.60" y2="614.86" stroke="#f0782a" stroke-width="0.7" stroke-linecap="butt"/>
<line x1="504.20" y1="614.10" x2="504.20" y2="616.26" stroke="#f0782a" stroke-width="0.7" stroke-linecap="butt"/>
<line x1="502.40" y1="614.10" x2="506.00" y2="614.10" stroke="#f0782a" stroke-width="0.7" stroke-linecap="butt"/>
<line x1="502.40" y1="616.26" x2="506.00" y2="616.26" stroke="#f0782a" stroke-width="0.7" stroke-linecap="butt"/>
<polyline points="390.60,614.64 404.80,597.36 419.00,600.60 433.20,606.00 447.40,608.16 475.80,613.56 504.20,615.18" fill="none" stroke="#f0782a" stroke-width="1.1" stroke-linejoin="round"/>
<text x="354.00" y="606.00" font-size="8.4" text-anchor="middle" fill="#231f20" transform="rotate(-90 354.00 606.00)" textLength="56.5" lengthAdjust="spacingAndGlyphs">Blood glucose</text>
<text x="364.60" y="606.90" font-size="8.4" text-anchor="middle" fill="#231f20" transform="rotate(-90 364.60 606.90)" textLength="35.5" lengthAdjust="spacingAndGlyphs">(mg dl<tspan font-size="5.6" dy="-3">−1</tspan><tspan dy="3">)</tspan></text>
<line x1="477.40" y1="582.40" x2="484.70" y2="582.40" stroke="#f0782a" stroke-width="1.1" stroke-linecap="butt"/>
<text x="487.60" y="584.90" font-size="8.0" text-anchor="start" fill="#231f20" textLength="14.2" lengthAdjust="spacingAndGlyphs">DCZ</text>
<line x1="477.40" y1="591.50" x2="484.70" y2="591.50" stroke="#222" stroke-width="1.1" stroke-linecap="butt"/>
<text x="487.60" y="594.00" font-size="8.0" text-anchor="start" fill="#231f20" textLength="13.0" lengthAdjust="spacingAndGlyphs">SAL</text>
<text x="404.90" y="582.80" font-size="12" text-anchor="middle" fill="#231f20">**</text>
<text x="518.10" y="572.50" font-size="13" text-anchor="start" font-weight="bold" fill="#000">t</text>
<line x1="565.20" y1="596.83" x2="679.90" y2="596.83" stroke="#9a9a9a" stroke-width="0.9" stroke-dasharray="3.0 2.2" stroke-linecap="butt"/>
<line x1="565.20" y1="579.00" x2="565.20" y2="632.50" stroke="#c0c0c0" stroke-width="1.4" stroke-linecap="butt"/>
<line x1="564.70" y1="632.50" x2="679.40" y2="632.50" stroke="#707070" stroke-width="0.9" stroke-linecap="butt"/>
<line x1="563.00" y1="579.00" x2="565.20" y2="579.00" stroke="#555" stroke-width="0.7" stroke-linecap="butt"/>
<text x="559.00" y="581.90" font-size="8.69" text-anchor="end" fill="#231f20" textLength="13.18" lengthAdjust="spacingAndGlyphs">100</text>
<line x1="563.00" y1="587.92" x2="565.20" y2="587.92" stroke="#555" stroke-width="0.7" stroke-linecap="butt"/>
<text x="559.00" y="590.82" font-size="8.69" text-anchor="end" fill="#231f20" textLength="8.79" lengthAdjust="spacingAndGlyphs">50</text>
<line x1="563.00" y1="596.83" x2="565.20" y2="596.83" stroke="#555" stroke-width="0.7" stroke-linecap="butt"/>
<text x="559.00" y="599.73" font-size="8.69" text-anchor="end" fill="#231f20" textLength="4.39" lengthAdjust="spacingAndGlyphs">0</text>
<line x1="563.00" y1="605.75" x2="565.20" y2="605.75" stroke="#555" stroke-width="0.7" stroke-linecap="butt"/>
<text x="559.00" y="608.65" font-size="8.69" text-anchor="end" fill="#231f20" textLength="13.18" lengthAdjust="spacingAndGlyphs">–50</text>
<line x1="563.00" y1="614.67" x2="565.20" y2="614.67" stroke="#555" stroke-width="0.7" stroke-linecap="butt"/>
<text x="559.00" y="617.57" font-size="8.69" text-anchor="end" fill="#231f20" textLength="17.58" lengthAdjust="spacingAndGlyphs">–100</text>
<line x1="563.00" y1="623.58" x2="565.20" y2="623.58" stroke="#555" stroke-width="0.7" stroke-linecap="butt"/>
<text x="559.00" y="626.48" font-size="8.69" text-anchor="end" fill="#231f20" textLength="17.58" lengthAdjust="spacingAndGlyphs">–150</text>
<line x1="563.00" y1="632.50" x2="565.20" y2="632.50" stroke="#555" stroke-width="0.7" stroke-linecap="butt"/>
<text x="559.00" y="635.40" font-size="8.69" text-anchor="end" fill="#231f20" textLength="17.58" lengthAdjust="spacingAndGlyphs">–200</text>
<line x1="565.20" y1="632.50" x2="565.20" y2="634.30" stroke="#555" stroke-width="0.7" stroke-linecap="butt"/>
<text x="565.20" y="644.30" font-size="8.69" text-anchor="middle" fill="#231f20" textLength="4.39" lengthAdjust="spacingAndGlyphs">0</text>
<line x1="579.41" y1="632.50" x2="579.41" y2="634.30" stroke="#555" stroke-width="0.7" stroke-linecap="butt"/>
<text x="579.41" y="644.30" font-size="8.69" text-anchor="middle" fill="#231f20" textLength="8.79" lengthAdjust="spacingAndGlyphs">15</text>
<line x1="593.62" y1="632.50" x2="593.62" y2="634.30" stroke="#555" stroke-width="0.7" stroke-linecap="butt"/>
<text x="593.62" y="644.30" font-size="8.69" text-anchor="middle" fill="#231f20" textLength="8.79" lengthAdjust="spacingAndGlyphs">30</text>
<line x1="607.84" y1="632.50" x2="607.84" y2="634.30" stroke="#555" stroke-width="0.7" stroke-linecap="butt"/>
<text x="607.84" y="644.30" font-size="8.69" text-anchor="middle" fill="#231f20" textLength="8.79" lengthAdjust="spacingAndGlyphs">45</text>
<line x1="622.05" y1="632.50" x2="622.05" y2="634.30" stroke="#555" stroke-width="0.7" stroke-linecap="butt"/>
<text x="622.05" y="644.30" font-size="8.69" text-anchor="middle" fill="#231f20" textLength="8.79" lengthAdjust="spacingAndGlyphs">60</text>
<line x1="650.48" y1="632.50" x2="650.48" y2="634.30" stroke="#555" stroke-width="0.7" stroke-linecap="butt"/>
<text x="650.48" y="644.30" font-size="8.69" text-anchor="middle" fill="#231f20" textLength="8.79" lengthAdjust="spacingAndGlyphs">90</text>
<line x1="678.90" y1="632.50" x2="678.90" y2="634.30" stroke="#555" stroke-width="0.7" stroke-linecap="butt"/>
<text x="678.90" y="644.30" font-size="8.69" text-anchor="middle" fill="#231f20" textLength="13.18" lengthAdjust="spacingAndGlyphs">120</text>
<text x="622.05" y="657.10" font-size="8.4" text-anchor="middle" fill="#231f20" textLength="42.1" lengthAdjust="spacingAndGlyphs">Time (min)</text>
<line x1="579.41" y1="606.64" x2="579.41" y2="615.56" stroke="#f0782a" stroke-width="0.7" stroke-linecap="butt"/>
<line x1="577.61" y1="606.64" x2="581.21" y2="606.64" stroke="#f0782a" stroke-width="0.7" stroke-linecap="butt"/>
<line x1="577.61" y1="615.56" x2="581.21" y2="615.56" stroke="#f0782a" stroke-width="0.7" stroke-linecap="butt"/>
<line x1="593.62" y1="602.72" x2="593.62" y2="610.57" stroke="#f0782a" stroke-width="0.7" stroke-linecap="butt"/>
<line x1="591.83" y1="602.72" x2="595.42" y2="602.72" stroke="#f0782a" stroke-width="0.7" stroke-linecap="butt"/>
<line x1="591.83" y1="610.57" x2="595.42" y2="610.57" stroke="#f0782a" stroke-width="0.7" stroke-linecap="butt"/>
<line x1="607.84" y1="598.62" x2="607.84" y2="603.97" stroke="#f0782a" stroke-width="0.7" stroke-linecap="butt"/>
<line x1="606.04" y1="598.62" x2="609.64" y2="598.62" stroke="#f0782a" stroke-width="0.7" stroke-linecap="butt"/>
<line x1="606.04" y1="603.97" x2="609.64" y2="603.97" stroke="#f0782a" stroke-width="0.7" stroke-linecap="butt"/>
<line x1="622.05" y1="596.48" x2="622.05" y2="600.76" stroke="#f0782a" stroke-width="0.7" stroke-linecap="butt"/>
<line x1="620.25" y1="596.48" x2="623.85" y2="596.48" stroke="#f0782a" stroke-width="0.7" stroke-linecap="butt"/>
<line x1="620.25" y1="600.76" x2="623.85" y2="600.76" stroke="#f0782a" stroke-width="0.7" stroke-linecap="butt"/>
<line x1="650.48" y1="598.62" x2="650.48" y2="603.97" stroke="#f0782a" stroke-width="0.7" stroke-linecap="butt"/>
<line x1="648.68" y1="598.62" x2="652.27" y2="598.62" stroke="#f0782a" stroke-width="0.7" stroke-linecap="butt"/>
<line x1="648.68" y1="603.97" x2="652.27" y2="603.97" stroke="#f0782a" stroke-width="0.7" stroke-linecap="butt"/>
<line x1="678.90" y1="596.48" x2="678.90" y2="600.76" stroke="#f0782a" stroke-width="0.7" stroke-linecap="butt"/>
<line x1="677.10" y1="596.48" x2="680.70" y2="596.48" stroke="#f0782a" stroke-width="0.7" stroke-linecap="butt"/>
<line x1="677.10" y1="600.76" x2="680.70" y2="600.76" stroke="#f0782a" stroke-width="0.7" stroke-linecap="butt"/>
<polyline points="565.20,598.62 579.41,611.10 593.62,606.64 607.84,601.29 622.05,598.62 650.48,601.29 678.90,598.62" fill="none" stroke="#f0782a" stroke-width="1.0" stroke-linejoin="round"/>
<text x="524.60" y="605.80" font-size="8.4" text-anchor="middle" fill="#231f20" transform="rotate(-90 524.60 605.80)" textLength="56.5" lengthAdjust="spacingAndGlyphs">Blood glucose</text>
<text x="535.60" y="606.70" font-size="8.4" text-anchor="middle" fill="#231f20" transform="rotate(-90 535.60 606.70)" textLength="35.5" lengthAdjust="spacingAndGlyphs">(mg dl<tspan font-size="5.6" dy="-3">−1</tspan><tspan dy="3">)</tspan></text>
<text x="579.60" y="628.20" font-size="12" text-anchor="middle" fill="#231f20">**</text>
<text x="253.70" y="681.20" font-size="13" text-anchor="start" font-weight="bold" fill="#000">v</text>
<line x1="300.60" y1="688.70" x2="300.60" y2="742.30" stroke="#c0c0c0" stroke-width="1.4" stroke-linecap="butt"/>
<line x1="300.10" y1="742.30" x2="414.90" y2="742.30" stroke="#707070" stroke-width="0.9" stroke-linecap="butt"/>
<line x1="298.40" y1="688.70" x2="300.60" y2="688.70" stroke="#555" stroke-width="0.7" stroke-linecap="butt"/>
<text x="294.30" y="691.60" font-size="8.69" text-anchor="end" fill="#231f20" textLength="13.18" lengthAdjust="spacingAndGlyphs">500</text>
<line x1="298.40" y1="699.42" x2="300.60" y2="699.42" stroke="#555" stroke-width="0.7" stroke-linecap="butt"/>
<text x="294.30" y="702.32" font-size="8.69" text-anchor="end" fill="#231f20" textLength="13.18" lengthAdjust="spacingAndGlyphs">400</text>
<line x1="298.40" y1="710.14" x2="300.60" y2="710.14" stroke="#555" stroke-width="0.7" stroke-linecap="butt"/>
<text x="294.30" y="713.04" font-size="8.69" text-anchor="end" fill="#231f20" textLength="13.18" lengthAdjust="spacingAndGlyphs">300</text>
<line x1="298.40" y1="720.86" x2="300.60" y2="720.86" stroke="#555" stroke-width="0.7" stroke-linecap="butt"/>
<text x="294.30" y="723.76" font-size="8.69" text-anchor="end" fill="#231f20" textLength="13.18" lengthAdjust="spacingAndGlyphs">200</text>
<line x1="298.40" y1="731.58" x2="300.60" y2="731.58" stroke="#555" stroke-width="0.7" stroke-linecap="butt"/>
<text x="294.30" y="734.48" font-size="8.69" text-anchor="end" fill="#231f20" textLength="13.18" lengthAdjust="spacingAndGlyphs">100</text>
<line x1="298.40" y1="742.30" x2="300.60" y2="742.30" stroke="#555" stroke-width="0.7" stroke-linecap="butt"/>
<text x="294.30" y="745.20" font-size="8.69" text-anchor="end" fill="#231f20" textLength="4.39" lengthAdjust="spacingAndGlyphs">0</text>
<line x1="300.60" y1="742.30" x2="300.60" y2="744.10" stroke="#555" stroke-width="0.7" stroke-linecap="butt"/>
<text x="300.60" y="753.40" font-size="8.69" text-anchor="middle" fill="#231f20" textLength="4.39" lengthAdjust="spacingAndGlyphs">0</text>
<line x1="314.83" y1="742.30" x2="314.83" y2="744.10" stroke="#555" stroke-width="0.7" stroke-linecap="butt"/>
<text x="314.83" y="753.40" font-size="8.69" text-anchor="middle" fill="#231f20" textLength="8.79" lengthAdjust="spacingAndGlyphs">15</text>
<line x1="329.05" y1="742.30" x2="329.05" y2="744.10" stroke="#555" stroke-width="0.7" stroke-linecap="butt"/>
<text x="329.05" y="753.40" font-size="8.69" text-anchor="middle" fill="#231f20" textLength="8.79" lengthAdjust="spacingAndGlyphs">30</text>
<line x1="343.27" y1="742.30" x2="343.27" y2="744.10" stroke="#555" stroke-width="0.7" stroke-linecap="butt"/>
<text x="343.27" y="753.40" font-size="8.69" text-anchor="middle" fill="#231f20" textLength="8.79" lengthAdjust="spacingAndGlyphs">45</text>
<line x1="357.50" y1="742.30" x2="357.50" y2="744.10" stroke="#555" stroke-width="0.7" stroke-linecap="butt"/>
<text x="357.50" y="753.40" font-size="8.69" text-anchor="middle" fill="#231f20" textLength="8.79" lengthAdjust="spacingAndGlyphs">60</text>
<line x1="385.95" y1="742.30" x2="385.95" y2="744.10" stroke="#555" stroke-width="0.7" stroke-linecap="butt"/>
<text x="385.95" y="753.40" font-size="8.69" text-anchor="middle" fill="#231f20" textLength="8.79" lengthAdjust="spacingAndGlyphs">90</text>
<line x1="414.40" y1="742.30" x2="414.40" y2="744.10" stroke="#555" stroke-width="0.7" stroke-linecap="butt"/>
<text x="414.40" y="753.40" font-size="8.69" text-anchor="middle" fill="#231f20" textLength="13.18" lengthAdjust="spacingAndGlyphs">120</text>
<text x="357.50" y="765.00" font-size="8.4" text-anchor="middle" fill="#231f20" textLength="42.1" lengthAdjust="spacingAndGlyphs">Time (min)</text>
<line x1="300.60" y1="721.61" x2="300.60" y2="723.33" stroke="#222" stroke-width="0.7" stroke-linecap="butt"/>
<line x1="298.80" y1="721.61" x2="302.40" y2="721.61" stroke="#222" stroke-width="0.7" stroke-linecap="butt"/>
<line x1="298.80" y1="723.33" x2="302.40" y2="723.33" stroke="#222" stroke-width="0.7" stroke-linecap="butt"/>
<line x1="314.83" y1="698.35" x2="314.83" y2="703.71" stroke="#222" stroke-width="0.7" stroke-linecap="butt"/>
<line x1="313.03" y1="698.35" x2="316.63" y2="698.35" stroke="#222" stroke-width="0.7" stroke-linecap="butt"/>
<line x1="313.03" y1="703.71" x2="316.63" y2="703.71" stroke="#222" stroke-width="0.7" stroke-linecap="butt"/>
<line x1="329.05" y1="701.78" x2="329.05" y2="705.64" stroke="#222" stroke-width="0.7" stroke-linecap="butt"/>
<line x1="327.25" y1="701.78" x2="330.85" y2="701.78" stroke="#222" stroke-width="0.7" stroke-linecap="butt"/>
<line x1="327.25" y1="705.64" x2="330.85" y2="705.64" stroke="#222" stroke-width="0.7" stroke-linecap="butt"/>
<line x1="343.27" y1="706.92" x2="343.27" y2="710.14" stroke="#222" stroke-width="0.7" stroke-linecap="butt"/>
<line x1="341.47" y1="706.92" x2="345.07" y2="706.92" stroke="#222" stroke-width="0.7" stroke-linecap="butt"/>
<line x1="341.47" y1="710.14" x2="345.07" y2="710.14" stroke="#222" stroke-width="0.7" stroke-linecap="butt"/>
<line x1="357.50" y1="709.07" x2="357.50" y2="712.28" stroke="#222" stroke-width="0.7" stroke-linecap="butt"/>
<line x1="355.70" y1="709.07" x2="359.30" y2="709.07" stroke="#222" stroke-width="0.7" stroke-linecap="butt"/>
<line x1="355.70" y1="712.28" x2="359.30" y2="712.28" stroke="#222" stroke-width="0.7" stroke-linecap="butt"/>
<line x1="385.95" y1="717.11" x2="385.95" y2="719.25" stroke="#222" stroke-width="0.7" stroke-linecap="butt"/>
<line x1="384.15" y1="717.11" x2="387.75" y2="717.11" stroke="#222" stroke-width="0.7" stroke-linecap="butt"/>
<line x1="384.15" y1="719.25" x2="387.75" y2="719.25" stroke="#222" stroke-width="0.7" stroke-linecap="butt"/>
<line x1="414.40" y1="721.07" x2="414.40" y2="722.79" stroke="#222" stroke-width="0.7" stroke-linecap="butt"/>
<line x1="412.60" y1="721.07" x2="416.20" y2="721.07" stroke="#222" stroke-width="0.7" stroke-linecap="butt"/>
<line x1="412.60" y1="722.79" x2="416.20" y2="722.79" stroke="#222" stroke-width="0.7" stroke-linecap="butt"/>
<polyline points="300.60,722.47 314.83,701.03 329.05,703.71 343.27,708.53 357.50,710.68 385.95,718.18 414.40,721.93" fill="none" stroke="#222" stroke-width="0.9" stroke-linejoin="round"/>
<line x1="300.60" y1="721.40" x2="300.60" y2="723.54" stroke="#f0782a" stroke-width="0.7" stroke-linecap="butt"/>
<line x1="298.80" y1="721.40" x2="302.40" y2="721.40" stroke="#f0782a" stroke-width="0.7" stroke-linecap="butt"/>
<line x1="298.80" y1="723.54" x2="302.40" y2="723.54" stroke="#f0782a" stroke-width="0.7" stroke-linecap="butt"/>
<line x1="314.83" y1="691.92" x2="314.83" y2="697.28" stroke="#f0782a" stroke-width="0.7" stroke-linecap="butt"/>
<line x1="313.03" y1="691.92" x2="316.63" y2="691.92" stroke="#f0782a" stroke-width="0.7" stroke-linecap="butt"/>
<line x1="313.03" y1="697.28" x2="316.63" y2="697.28" stroke="#f0782a" stroke-width="0.7" stroke-linecap="butt"/>
<line x1="329.05" y1="690.31" x2="329.05" y2="695.67" stroke="#f0782a" stroke-width="0.7" stroke-linecap="butt"/>
<line x1="327.25" y1="690.31" x2="330.85" y2="690.31" stroke="#f0782a" stroke-width="0.7" stroke-linecap="butt"/>
<line x1="327.25" y1="695.67" x2="330.85" y2="695.67" stroke="#f0782a" stroke-width="0.7" stroke-linecap="butt"/>
<line x1="343.27" y1="692.99" x2="343.27" y2="699.42" stroke="#f0782a" stroke-width="0.7" stroke-linecap="butt"/>
<line x1="341.47" y1="692.99" x2="345.07" y2="692.99" stroke="#f0782a" stroke-width="0.7" stroke-linecap="butt"/>
<line x1="341.47" y1="699.42" x2="345.07" y2="699.42" stroke="#f0782a" stroke-width="0.7" stroke-linecap="butt"/>
<line x1="357.50" y1="697.28" x2="357.50" y2="704.78" stroke="#f0782a" stroke-width="0.7" stroke-linecap="butt"/>
<line x1="355.70" y1="697.28" x2="359.30" y2="697.28" stroke="#f0782a" stroke-width="0.7" stroke-linecap="butt"/>
<line x1="355.70" y1="704.78" x2="359.30" y2="704.78" stroke="#f0782a" stroke-width="0.7" stroke-linecap="butt"/>
<line x1="385.95" y1="707.46" x2="385.95" y2="717.11" stroke="#f0782a" stroke-width="0.7" stroke-linecap="butt"/>
<line x1="384.15" y1="707.46" x2="387.75" y2="707.46" stroke="#f0782a" stroke-width="0.7" stroke-linecap="butt"/>
<line x1="384.15" y1="717.11" x2="387.75" y2="717.11" stroke="#f0782a" stroke-width="0.7" stroke-linecap="butt"/>
<line x1="414.40" y1="711.75" x2="414.40" y2="719.25" stroke="#f0782a" stroke-width="0.7" stroke-linecap="butt"/>
<line x1="412.60" y1="711.75" x2="416.20" y2="711.75" stroke="#f0782a" stroke-width="0.7" stroke-linecap="butt"/>
<line x1="412.60" y1="719.25" x2="416.20" y2="719.25" stroke="#f0782a" stroke-width="0.7" stroke-linecap="butt"/>
<polyline points="300.60,722.47 314.83,694.60 329.05,692.99 343.27,696.20 357.50,701.03 385.95,712.28 414.40,715.50" fill="none" stroke="#f0782a" stroke-width="1.1" stroke-linejoin="round"/>
<text x="260.10" y="715.50" font-size="8.4" text-anchor="middle" fill="#231f20" transform="rotate(-90 260.10 715.50)" textLength="56.5" lengthAdjust="spacingAndGlyphs">Blood glucose</text>
<text x="271.10" y="716.40" font-size="8.4" text-anchor="middle" fill="#231f20" transform="rotate(-90 271.10 716.40)" textLength="35.5" lengthAdjust="spacingAndGlyphs">(mg dl<tspan font-size="5.6" dy="-3">−1</tspan><tspan dy="3">)</tspan></text>
<line x1="387.60" y1="691.30" x2="394.90" y2="691.30" stroke="#f0782a" stroke-width="1.1" stroke-linecap="butt"/>
<text x="397.80" y="693.80" font-size="8.0" text-anchor="start" fill="#231f20" textLength="14.2" lengthAdjust="spacingAndGlyphs">DCZ</text>
<line x1="387.60" y1="700.40" x2="394.90" y2="700.40" stroke="#222" stroke-width="1.1" stroke-linecap="butt"/>
<text x="397.80" y="702.90" font-size="8.0" text-anchor="start" fill="#231f20" textLength="13.0" lengthAdjust="spacingAndGlyphs">SAL</text>
<text x="329.60" y="685.20" font-size="12" text-anchor="middle" fill="#231f20">*</text>
<text x="343.30" y="689.20" font-size="12" text-anchor="middle" fill="#231f20">*</text>
<text x="518.50" y="681.20" font-size="13" text-anchor="start" font-weight="bold" fill="#000">w</text>
<line x1="565.20" y1="724.43" x2="680.60" y2="724.43" stroke="#111" stroke-width="1.1" stroke-dasharray="3.6 2.2" stroke-linecap="butt"/>
<line x1="565.20" y1="688.70" x2="565.20" y2="742.30" stroke="#c0c0c0" stroke-width="1.4" stroke-linecap="butt"/>
<line x1="564.70" y1="742.30" x2="680.10" y2="742.30" stroke="#707070" stroke-width="0.9" stroke-linecap="butt"/>
<line x1="563.00" y1="688.70" x2="565.20" y2="688.70" stroke="#555" stroke-width="0.7" stroke-linecap="butt"/>
<text x="558.80" y="691.60" font-size="8.69" text-anchor="end" fill="#231f20" textLength="13.18" lengthAdjust="spacingAndGlyphs">200</text>
<line x1="563.00" y1="697.63" x2="565.20" y2="697.63" stroke="#555" stroke-width="0.7" stroke-linecap="butt"/>
<text x="558.80" y="700.53" font-size="8.69" text-anchor="end" fill="#231f20" textLength="13.18" lengthAdjust="spacingAndGlyphs">150</text>
<line x1="563.00" y1="706.57" x2="565.20" y2="706.57" stroke="#555" stroke-width="0.7" stroke-linecap="butt"/>
<text x="558.80" y="709.47" font-size="8.69" text-anchor="end" fill="#231f20" textLength="13.18" lengthAdjust="spacingAndGlyphs">100</text>
<line x1="563.00" y1="715.50" x2="565.20" y2="715.50" stroke="#555" stroke-width="0.7" stroke-linecap="butt"/>
<text x="558.80" y="718.40" font-size="8.69" text-anchor="end" fill="#231f20" textLength="8.79" lengthAdjust="spacingAndGlyphs">50</text>
<line x1="563.00" y1="724.43" x2="565.20" y2="724.43" stroke="#555" stroke-width="0.7" stroke-linecap="butt"/>
<text x="558.80" y="727.33" font-size="8.69" text-anchor="end" fill="#231f20" textLength="4.39" lengthAdjust="spacingAndGlyphs">0</text>
<line x1="563.00" y1="733.37" x2="565.20" y2="733.37" stroke="#555" stroke-width="0.7" stroke-linecap="butt"/>
<text x="558.80" y="736.27" font-size="8.69" text-anchor="end" fill="#231f20" textLength="13.18" lengthAdjust="spacingAndGlyphs">–50</text>
<line x1="563.00" y1="742.30" x2="565.20" y2="742.30" stroke="#555" stroke-width="0.7" stroke-linecap="butt"/>
<text x="558.80" y="745.20" font-size="8.69" text-anchor="end" fill="#231f20" textLength="17.58" lengthAdjust="spacingAndGlyphs">–100</text>
<line x1="565.20" y1="742.30" x2="565.20" y2="744.10" stroke="#555" stroke-width="0.7" stroke-linecap="butt"/>
<text x="565.20" y="753.40" font-size="8.69" text-anchor="middle" fill="#231f20" textLength="4.39" lengthAdjust="spacingAndGlyphs">0</text>
<line x1="579.50" y1="742.30" x2="579.50" y2="744.10" stroke="#555" stroke-width="0.7" stroke-linecap="butt"/>
<text x="579.50" y="753.40" font-size="8.69" text-anchor="middle" fill="#231f20" textLength="8.79" lengthAdjust="spacingAndGlyphs">15</text>
<line x1="593.80" y1="742.30" x2="593.80" y2="744.10" stroke="#555" stroke-width="0.7" stroke-linecap="butt"/>
<text x="593.80" y="753.40" font-size="8.69" text-anchor="middle" fill="#231f20" textLength="8.79" lengthAdjust="spacingAndGlyphs">30</text>
<line x1="608.10" y1="742.30" x2="608.10" y2="744.10" stroke="#555" stroke-width="0.7" stroke-linecap="butt"/>
<text x="608.10" y="753.40" font-size="8.69" text-anchor="middle" fill="#231f20" textLength="8.79" lengthAdjust="spacingAndGlyphs">45</text>
<line x1="622.40" y1="742.30" x2="622.40" y2="744.10" stroke="#555" stroke-width="0.7" stroke-linecap="butt"/>
<text x="622.40" y="753.40" font-size="8.69" text-anchor="middle" fill="#231f20" textLength="8.79" lengthAdjust="spacingAndGlyphs">60</text>
<line x1="651.00" y1="742.30" x2="651.00" y2="744.10" stroke="#555" stroke-width="0.7" stroke-linecap="butt"/>
<text x="651.00" y="753.40" font-size="8.69" text-anchor="middle" fill="#231f20" textLength="8.79" lengthAdjust="spacingAndGlyphs">90</text>
<line x1="679.60" y1="742.30" x2="679.60" y2="744.10" stroke="#555" stroke-width="0.7" stroke-linecap="butt"/>
<text x="679.60" y="753.40" font-size="8.69" text-anchor="middle" fill="#231f20" textLength="13.18" lengthAdjust="spacingAndGlyphs">120</text>
<text x="622.40" y="765.00" font-size="8.4" text-anchor="middle" fill="#231f20" textLength="42.1" lengthAdjust="spacingAndGlyphs">Time (min)</text>
<line x1="579.50" y1="705.67" x2="579.50" y2="721.75" stroke="#f0782a" stroke-width="0.7" stroke-linecap="butt"/>
<line x1="577.70" y1="705.67" x2="581.30" y2="705.67" stroke="#f0782a" stroke-width="0.7" stroke-linecap="butt"/>
<line x1="577.70" y1="721.75" x2="581.30" y2="721.75" stroke="#f0782a" stroke-width="0.7" stroke-linecap="butt"/>
<line x1="593.80" y1="700.31" x2="593.80" y2="712.82" stroke="#f0782a" stroke-width="0.7" stroke-linecap="butt"/>
<line x1="592.00" y1="700.31" x2="595.60" y2="700.31" stroke="#f0782a" stroke-width="0.7" stroke-linecap="butt"/>
<line x1="592.00" y1="712.82" x2="595.60" y2="712.82" stroke="#f0782a" stroke-width="0.7" stroke-linecap="butt"/>
<line x1="608.10" y1="696.74" x2="608.10" y2="712.82" stroke="#f0782a" stroke-width="0.7" stroke-linecap="butt"/>
<line x1="606.30" y1="696.74" x2="609.90" y2="696.74" stroke="#f0782a" stroke-width="0.7" stroke-linecap="butt"/>
<line x1="606.30" y1="712.82" x2="609.90" y2="712.82" stroke="#f0782a" stroke-width="0.7" stroke-linecap="butt"/>
<line x1="622.40" y1="701.56" x2="622.40" y2="715.86" stroke="#f0782a" stroke-width="0.7" stroke-linecap="butt"/>
<line x1="620.60" y1="701.56" x2="624.20" y2="701.56" stroke="#f0782a" stroke-width="0.7" stroke-linecap="butt"/>
<line x1="620.60" y1="715.86" x2="624.20" y2="715.86" stroke="#f0782a" stroke-width="0.7" stroke-linecap="butt"/>
<line x1="651.00" y1="704.78" x2="651.00" y2="726.22" stroke="#f0782a" stroke-width="0.7" stroke-linecap="butt"/>
<line x1="649.20" y1="704.78" x2="652.80" y2="704.78" stroke="#f0782a" stroke-width="0.7" stroke-linecap="butt"/>
<line x1="649.20" y1="726.22" x2="652.80" y2="726.22" stroke="#f0782a" stroke-width="0.7" stroke-linecap="butt"/>
<line x1="679.60" y1="704.78" x2="679.60" y2="722.65" stroke="#f0782a" stroke-width="0.7" stroke-linecap="butt"/>
<line x1="677.80" y1="704.78" x2="681.40" y2="704.78" stroke="#f0782a" stroke-width="0.7" stroke-linecap="butt"/>
<line x1="677.80" y1="722.65" x2="681.40" y2="722.65" stroke="#f0782a" stroke-width="0.7" stroke-linecap="butt"/>
<polyline points="565.20,723.54 579.50,713.71 593.80,706.57 608.10,704.78 622.40,708.71 651.00,715.50 679.60,713.71" fill="none" stroke="#f0782a" stroke-width="1.0" stroke-linejoin="round"/>
<text x="525.60" y="715.50" font-size="8.4" text-anchor="middle" fill="#231f20" transform="rotate(-90 525.60 715.50)" textLength="56.5" lengthAdjust="spacingAndGlyphs">Blood glucose</text>
<text x="536.60" y="716.40" font-size="8.4" text-anchor="middle" fill="#231f20" transform="rotate(-90 536.60 716.40)" textLength="35.5" lengthAdjust="spacingAndGlyphs">(mg dl<tspan font-size="5.6" dy="-3">−1</tspan><tspan dy="3">)</tspan></text>
<text x="594.10" y="695.20" font-size="12" text-anchor="middle" fill="#231f20">*</text>
<text x="608.00" y="691.80" font-size="12" text-anchor="middle" fill="#231f20">*</text>
<text x="0.00" y="680.90" font-size="13" text-anchor="start" font-weight="bold" fill="#000">u</text>
<text x="81.70" y="696.30" font-size="8.4" text-anchor="middle" fill="#231f20" textLength="40.3" lengthAdjust="spacingAndGlyphs">MaCPNS1:</text>
<text x="81.10" y="706.60" font-size="8.4" text-anchor="middle" fill="#231f20" textLength="106.2" lengthAdjust="spacingAndGlyphs">CAG–DIO–hM<tspan font-size="6.0" dy="2.3">4</tspan><tspan dy="-2.3">Di–mCherry</tspan></text>
<text x="153.90" y="706.60" font-size="8.4" text-anchor="middle" fill="#231f20" textLength="22.2" lengthAdjust="spacingAndGlyphs">OGTT</text>
<text x="184.90" y="706.60" font-size="8.4" text-anchor="middle" fill="#231f20" textLength="22.2" lengthAdjust="spacingAndGlyphs">OGTT</text>
<polygon points="80.20,713.00 88.20,713.00 84.20,720.60" fill="#000"/>
<polygon points="148.70,713.00 156.70,713.00 152.70,720.60" fill="#000"/>
<polygon points="181.30,713.00 189.30,713.00 185.30,720.60" fill="#000"/>
<defs><pattern id="hatch" patternUnits="userSpaceOnUse" width="5.7" height="5.7" patternTransform="translate(86 722) rotate(-45)"><rect width="5.7" height="5.7" fill="#ff8000"/><rect width="2.3" height="5.7" fill="#a85808"/></pattern></defs>
<rect x="84.4" y="722.2" width="101.2" height="17.4" fill="url(#hatch)" stroke="#3a4560" stroke-width="1.0"/>
<line x1="152.40" y1="722.20" x2="152.40" y2="739.60" stroke="#3a4560" stroke-width="0.9" stroke-linecap="butt"/>
<text x="118.40" y="733.60" font-size="8.4" text-anchor="middle" fill="#231f20" textLength="29.1" lengthAdjust="spacingAndGlyphs">21 days</text>
<text x="169.00" y="733.60" font-size="8.4" text-anchor="middle" fill="#231f20" textLength="24.7" lengthAdjust="spacingAndGlyphs">7 days</text>
<text x="79.40" y="734.40" font-size="8.4" text-anchor="end" font-style="italic" fill="#231f20" textLength="38.2" lengthAdjust="spacingAndGlyphs">Rxfp1-Cre</text>
</svg></body></html>
